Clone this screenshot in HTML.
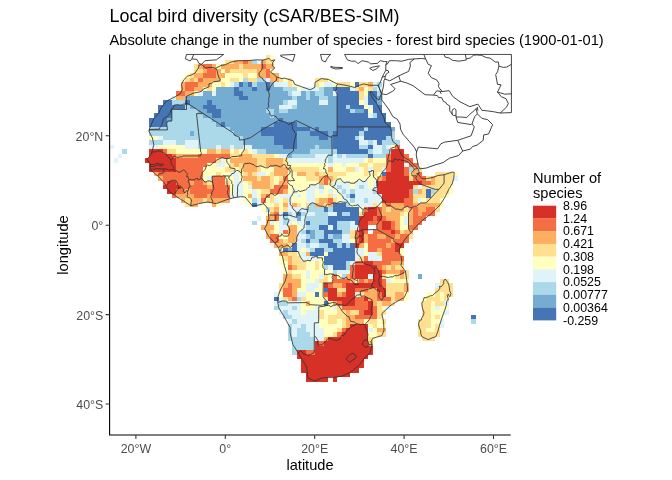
<!DOCTYPE html>
<html><head><meta charset="utf-8"><title>Local bird diversity</title>
<style>
html,body{margin:0;padding:0;background:#fff;}
body{width:672px;height:480px;overflow:hidden;}
svg{display:block}
text{font-family:"Liberation Sans",Arial,sans-serif;fill:#000}
.tk{font-size:12.4px;fill:#4d4d4d}
.lg{font-size:12.4px}
.ax{font-size:14.6px}
.t1{font-size:17.95px}
.t2{font-size:14.68px}
</style></head><body>
<svg width="672" height="480" viewBox="0 0 672 480">
<rect width="672" height="480" fill="#fff"/>
<defs><clipPath id="cp"><rect x="109" y="53.6" width="403.6" height="381.6"/></clipPath></defs>
<g clip-path="url(#cp)" shape-rendering="crispEdges">
<rect x="265.53" y="55.34" width="4.47" height="4.52" fill="#FEE090"/><rect x="270.00" y="55.34" width="4.47" height="4.52" fill="#FFFFBF"/><rect x="225.30" y="59.81" width="8.94" height="4.52" fill="#FEE090"/><rect x="234.24" y="59.81" width="8.94" height="4.52" fill="#FDAE61"/><rect x="243.18" y="59.81" width="4.47" height="4.52" fill="#F46D43"/><rect x="247.65" y="59.81" width="4.47" height="4.52" fill="#FDAE61"/><rect x="252.12" y="59.81" width="4.47" height="4.52" fill="#ABD9E9"/><rect x="256.59" y="59.81" width="4.47" height="4.52" fill="#E0F3F8"/><rect x="261.06" y="59.81" width="4.47" height="4.52" fill="#FDAE61"/><rect x="265.53" y="59.81" width="8.94" height="4.52" fill="#FEE090"/><rect x="194.01" y="64.28" width="4.47" height="4.52" fill="#FEE090"/><rect x="198.48" y="64.28" width="4.47" height="4.52" fill="#FDAE61"/><rect x="202.95" y="64.28" width="8.94" height="4.52" fill="#F46D43"/><rect x="211.89" y="64.28" width="4.47" height="4.52" fill="#FDAE61"/><rect x="216.36" y="64.28" width="4.47" height="4.52" fill="#FFFFBF"/><rect x="220.83" y="64.28" width="17.88" height="4.52" fill="#FDAE61"/><rect x="238.71" y="64.28" width="4.47" height="4.52" fill="#FEE090"/><rect x="243.18" y="64.28" width="17.88" height="4.52" fill="#FDAE61"/><rect x="261.06" y="64.28" width="4.47" height="4.52" fill="#F46D43"/><rect x="265.53" y="64.28" width="8.94" height="4.52" fill="#FDAE61"/><rect x="194.01" y="68.75" width="8.94" height="4.52" fill="#FEE090"/><rect x="202.95" y="68.75" width="4.47" height="4.52" fill="#FDAE61"/><rect x="207.42" y="68.75" width="8.94" height="4.52" fill="#F46D43"/><rect x="216.36" y="68.75" width="4.47" height="4.52" fill="#FDAE61"/><rect x="220.83" y="68.75" width="4.47" height="4.52" fill="#FFFFBF"/><rect x="225.30" y="68.75" width="4.47" height="4.52" fill="#FDAE61"/><rect x="229.77" y="68.75" width="26.82" height="4.52" fill="#FEE090"/><rect x="256.59" y="68.75" width="8.94" height="4.52" fill="#FDAE61"/><rect x="265.53" y="68.75" width="4.47" height="4.52" fill="#F46D43"/><rect x="270.00" y="68.75" width="4.47" height="4.52" fill="#FFFFBF"/><rect x="185.07" y="73.22" width="4.47" height="4.52" fill="#FFFFBF"/><rect x="189.54" y="73.22" width="4.47" height="4.52" fill="#FEE090"/><rect x="194.01" y="73.22" width="8.94" height="4.52" fill="#FDAE61"/><rect x="202.95" y="73.22" width="13.41" height="4.52" fill="#F46D43"/><rect x="216.36" y="73.22" width="8.94" height="4.52" fill="#FDAE61"/><rect x="225.30" y="73.22" width="17.88" height="4.52" fill="#FFFFBF"/><rect x="243.18" y="73.22" width="4.47" height="4.52" fill="#FEE090"/><rect x="247.65" y="73.22" width="8.94" height="4.52" fill="#FFFFBF"/><rect x="256.59" y="73.22" width="8.94" height="4.52" fill="#FDAE61"/><rect x="265.53" y="73.22" width="4.47" height="4.52" fill="#F46D43"/><rect x="270.00" y="73.22" width="8.94" height="4.52" fill="#FDAE61"/><rect x="180.60" y="77.69" width="4.47" height="4.52" fill="#FFFFBF"/><rect x="185.07" y="77.69" width="4.47" height="4.52" fill="#FEE090"/><rect x="189.54" y="77.69" width="4.47" height="4.52" fill="#FDAE61"/><rect x="194.01" y="77.69" width="4.47" height="4.52" fill="#FEE090"/><rect x="198.48" y="77.69" width="4.47" height="4.52" fill="#F46D43"/><rect x="202.95" y="77.69" width="17.88" height="4.52" fill="#FDAE61"/><rect x="220.83" y="77.69" width="8.94" height="4.52" fill="#FFFFBF"/><rect x="229.77" y="77.69" width="8.94" height="4.52" fill="#FEE090"/><rect x="238.71" y="77.69" width="4.47" height="4.52" fill="#FFFFBF"/><rect x="243.18" y="77.69" width="4.47" height="4.52" fill="#ABD9E9"/><rect x="247.65" y="77.69" width="8.94" height="4.52" fill="#FEE090"/><rect x="256.59" y="77.69" width="8.94" height="4.52" fill="#ABD9E9"/><rect x="265.53" y="77.69" width="4.47" height="4.52" fill="#E0F3F8"/><rect x="270.00" y="77.69" width="8.94" height="4.52" fill="#FDAE61"/><rect x="278.94" y="77.69" width="4.47" height="4.52" fill="#FEE090"/><rect x="283.41" y="77.69" width="4.47" height="4.52" fill="#FFFFBF"/><rect x="287.88" y="77.69" width="4.47" height="4.52" fill="#FEE090"/><rect x="314.70" y="77.69" width="13.41" height="4.52" fill="#FEE090"/><rect x="328.11" y="77.69" width="4.47" height="4.52" fill="#FFFFBF"/><rect x="180.60" y="82.16" width="4.47" height="4.52" fill="#FDAE61"/><rect x="185.07" y="82.16" width="13.41" height="4.52" fill="#F46D43"/><rect x="198.48" y="82.16" width="13.41" height="4.52" fill="#FDAE61"/><rect x="211.89" y="82.16" width="8.94" height="4.52" fill="#FFFFBF"/><rect x="220.83" y="82.16" width="4.47" height="4.52" fill="#FEE090"/><rect x="225.30" y="82.16" width="4.47" height="4.52" fill="#FFFFBF"/><rect x="229.77" y="82.16" width="4.47" height="4.52" fill="#E0F3F8"/><rect x="234.24" y="82.16" width="4.47" height="4.52" fill="#ABD9E9"/><rect x="238.71" y="82.16" width="4.47" height="4.52" fill="#4575B4"/><rect x="243.18" y="82.16" width="4.47" height="4.52" fill="#74ADD1"/><rect x="247.65" y="82.16" width="4.47" height="4.52" fill="#4575B4"/><rect x="252.12" y="82.16" width="4.47" height="4.52" fill="#ABD9E9"/><rect x="256.59" y="82.16" width="8.94" height="4.52" fill="#74ADD1"/><rect x="265.53" y="82.16" width="4.47" height="4.52" fill="#4575B4"/><rect x="270.00" y="82.16" width="4.47" height="4.52" fill="#74ADD1"/><rect x="274.47" y="82.16" width="13.41" height="4.52" fill="#E0F3F8"/><rect x="287.88" y="82.16" width="4.47" height="4.52" fill="#FEE090"/><rect x="292.35" y="82.16" width="4.47" height="4.52" fill="#FFFFBF"/><rect x="314.70" y="82.16" width="4.47" height="4.52" fill="#FEE090"/><rect x="319.17" y="82.16" width="4.47" height="4.52" fill="#FFFFBF"/><rect x="323.64" y="82.16" width="8.94" height="4.52" fill="#E0F3F8"/><rect x="332.58" y="82.16" width="4.47" height="4.52" fill="#FFFFBF"/><rect x="337.05" y="82.16" width="13.41" height="4.52" fill="#FEE090"/><rect x="350.46" y="82.16" width="4.47" height="4.52" fill="#FFFFBF"/><rect x="354.93" y="82.16" width="4.47" height="4.52" fill="#4575B4"/><rect x="359.40" y="82.16" width="8.94" height="4.52" fill="#FEE090"/><rect x="368.34" y="82.16" width="4.47" height="4.52" fill="#FDAE61"/><rect x="372.81" y="82.16" width="4.47" height="4.52" fill="#E0F3F8"/><rect x="377.28" y="82.16" width="4.47" height="4.52" fill="#ABD9E9"/><rect x="180.60" y="86.63" width="4.47" height="4.52" fill="#FDAE61"/><rect x="185.07" y="86.63" width="8.94" height="4.52" fill="#F46D43"/><rect x="194.01" y="86.63" width="8.94" height="4.52" fill="#FDAE61"/><rect x="202.95" y="86.63" width="4.47" height="4.52" fill="#FFFFBF"/><rect x="207.42" y="86.63" width="4.47" height="4.52" fill="#FEE090"/><rect x="211.89" y="86.63" width="4.47" height="4.52" fill="#FFFFBF"/><rect x="216.36" y="86.63" width="17.88" height="4.52" fill="#74ADD1"/><rect x="234.24" y="86.63" width="4.47" height="4.52" fill="#4575B4"/><rect x="238.71" y="86.63" width="13.41" height="4.52" fill="#74ADD1"/><rect x="252.12" y="86.63" width="4.47" height="4.52" fill="#4575B4"/><rect x="256.59" y="86.63" width="8.94" height="4.52" fill="#74ADD1"/><rect x="265.53" y="86.63" width="4.47" height="4.52" fill="#4575B4"/><rect x="270.00" y="86.63" width="13.41" height="4.52" fill="#74ADD1"/><rect x="283.41" y="86.63" width="13.41" height="4.52" fill="#ABD9E9"/><rect x="296.82" y="86.63" width="4.47" height="4.52" fill="#FFFFBF"/><rect x="301.29" y="86.63" width="17.88" height="4.52" fill="#E0F3F8"/><rect x="319.17" y="86.63" width="4.47" height="4.52" fill="#ABD9E9"/><rect x="323.64" y="86.63" width="8.94" height="4.52" fill="#74ADD1"/><rect x="332.58" y="86.63" width="17.88" height="4.52" fill="#4575B4"/><rect x="350.46" y="86.63" width="4.47" height="4.52" fill="#E0F3F8"/><rect x="354.93" y="86.63" width="4.47" height="4.52" fill="#FEE090"/><rect x="359.40" y="86.63" width="4.47" height="4.52" fill="#FDAE61"/><rect x="363.87" y="86.63" width="4.47" height="4.52" fill="#FFFFBF"/><rect x="368.34" y="86.63" width="4.47" height="4.52" fill="#FEE090"/><rect x="372.81" y="86.63" width="4.47" height="4.52" fill="#ABD9E9"/><rect x="377.28" y="86.63" width="4.47" height="4.52" fill="#E0F3F8"/><rect x="176.13" y="91.10" width="8.94" height="4.52" fill="#F46D43"/><rect x="185.07" y="91.10" width="8.94" height="4.52" fill="#FDAE61"/><rect x="194.01" y="91.10" width="4.47" height="4.52" fill="#FFFFBF"/><rect x="198.48" y="91.10" width="4.47" height="4.52" fill="#E0F3F8"/><rect x="202.95" y="91.10" width="8.94" height="4.52" fill="#74ADD1"/><rect x="211.89" y="91.10" width="4.47" height="4.52" fill="#E0F3F8"/><rect x="216.36" y="91.10" width="17.88" height="4.52" fill="#74ADD1"/><rect x="234.24" y="91.10" width="8.94" height="4.52" fill="#4575B4"/><rect x="243.18" y="91.10" width="44.70" height="4.52" fill="#74ADD1"/><rect x="287.88" y="91.10" width="4.47" height="4.52" fill="#ABD9E9"/><rect x="292.35" y="91.10" width="8.94" height="4.52" fill="#E0F3F8"/><rect x="301.29" y="91.10" width="4.47" height="4.52" fill="#74ADD1"/><rect x="305.76" y="91.10" width="4.47" height="4.52" fill="#ABD9E9"/><rect x="310.23" y="91.10" width="4.47" height="4.52" fill="#74ADD1"/><rect x="314.70" y="91.10" width="8.94" height="4.52" fill="#ABD9E9"/><rect x="323.64" y="91.10" width="8.94" height="4.52" fill="#74ADD1"/><rect x="332.58" y="91.10" width="4.47" height="4.52" fill="#E0F3F8"/><rect x="337.05" y="91.10" width="22.35" height="4.52" fill="#4575B4"/><rect x="359.40" y="91.10" width="4.47" height="4.52" fill="#FEE090"/><rect x="363.87" y="91.10" width="4.47" height="4.52" fill="#FFFFBF"/><rect x="368.34" y="91.10" width="8.94" height="4.52" fill="#4575B4"/><rect x="377.28" y="91.10" width="4.47" height="4.52" fill="#ABD9E9"/><rect x="171.66" y="95.57" width="4.47" height="4.52" fill="#E0F3F8"/><rect x="176.13" y="95.57" width="8.94" height="4.52" fill="#FDAE61"/><rect x="185.07" y="95.57" width="53.64" height="4.52" fill="#74ADD1"/><rect x="238.71" y="95.57" width="8.94" height="4.52" fill="#4575B4"/><rect x="247.65" y="95.57" width="44.70" height="4.52" fill="#74ADD1"/><rect x="292.35" y="95.57" width="4.47" height="4.52" fill="#ABD9E9"/><rect x="296.82" y="95.57" width="8.94" height="4.52" fill="#74ADD1"/><rect x="305.76" y="95.57" width="4.47" height="4.52" fill="#ABD9E9"/><rect x="310.23" y="95.57" width="8.94" height="4.52" fill="#74ADD1"/><rect x="319.17" y="95.57" width="8.94" height="4.52" fill="#ABD9E9"/><rect x="328.11" y="95.57" width="8.94" height="4.52" fill="#74ADD1"/><rect x="337.05" y="95.57" width="22.35" height="4.52" fill="#4575B4"/><rect x="359.40" y="95.57" width="4.47" height="4.52" fill="#FEE090"/><rect x="363.87" y="95.57" width="4.47" height="4.52" fill="#E0F3F8"/><rect x="368.34" y="95.57" width="8.94" height="4.52" fill="#4575B4"/><rect x="377.28" y="95.57" width="4.47" height="4.52" fill="#74ADD1"/><rect x="162.72" y="100.04" width="8.94" height="4.52" fill="#4575B4"/><rect x="171.66" y="100.04" width="13.41" height="4.52" fill="#ABD9E9"/><rect x="185.07" y="100.04" width="4.47" height="4.52" fill="#4575B4"/><rect x="189.54" y="100.04" width="17.88" height="4.52" fill="#74ADD1"/><rect x="207.42" y="100.04" width="4.47" height="4.52" fill="#4575B4"/><rect x="211.89" y="100.04" width="71.52" height="4.52" fill="#74ADD1"/><rect x="283.41" y="100.04" width="4.47" height="4.52" fill="#ABD9E9"/><rect x="287.88" y="100.04" width="8.94" height="4.52" fill="#E0F3F8"/><rect x="296.82" y="100.04" width="22.35" height="4.52" fill="#74ADD1"/><rect x="319.17" y="100.04" width="8.94" height="4.52" fill="#E0F3F8"/><rect x="328.11" y="100.04" width="8.94" height="4.52" fill="#74ADD1"/><rect x="337.05" y="100.04" width="22.35" height="4.52" fill="#4575B4"/><rect x="359.40" y="100.04" width="4.47" height="4.52" fill="#FFFFBF"/><rect x="363.87" y="100.04" width="4.47" height="4.52" fill="#E0F3F8"/><rect x="368.34" y="100.04" width="8.94" height="4.52" fill="#4575B4"/><rect x="377.28" y="100.04" width="4.47" height="4.52" fill="#74ADD1"/><rect x="158.25" y="104.51" width="26.82" height="4.52" fill="#4575B4"/><rect x="185.07" y="104.51" width="4.47" height="4.52" fill="#ABD9E9"/><rect x="189.54" y="104.51" width="13.41" height="4.52" fill="#74ADD1"/><rect x="202.95" y="104.51" width="13.41" height="4.52" fill="#4575B4"/><rect x="216.36" y="104.51" width="62.58" height="4.52" fill="#74ADD1"/><rect x="278.94" y="104.51" width="13.41" height="4.52" fill="#E0F3F8"/><rect x="292.35" y="104.51" width="4.47" height="4.52" fill="#ABD9E9"/><rect x="296.82" y="104.51" width="40.23" height="4.52" fill="#74ADD1"/><rect x="337.05" y="104.51" width="8.94" height="4.52" fill="#4575B4"/><rect x="345.99" y="104.51" width="4.47" height="4.52" fill="#ABD9E9"/><rect x="350.46" y="104.51" width="13.41" height="4.52" fill="#4575B4"/><rect x="363.87" y="104.51" width="4.47" height="4.52" fill="#FFFFBF"/><rect x="368.34" y="104.51" width="4.47" height="4.52" fill="#E0F3F8"/><rect x="372.81" y="104.51" width="8.94" height="4.52" fill="#4575B4"/><rect x="158.25" y="108.98" width="13.41" height="4.52" fill="#4575B4"/><rect x="171.66" y="108.98" width="26.82" height="4.52" fill="#ABD9E9"/><rect x="198.48" y="108.98" width="8.94" height="4.52" fill="#74ADD1"/><rect x="207.42" y="108.98" width="13.41" height="4.52" fill="#4575B4"/><rect x="220.83" y="108.98" width="44.70" height="4.52" fill="#74ADD1"/><rect x="265.53" y="108.98" width="8.94" height="4.52" fill="#ABD9E9"/><rect x="274.47" y="108.98" width="4.47" height="4.52" fill="#74ADD1"/><rect x="278.94" y="108.98" width="8.94" height="4.52" fill="#ABD9E9"/><rect x="287.88" y="108.98" width="49.17" height="4.52" fill="#74ADD1"/><rect x="337.05" y="108.98" width="13.41" height="4.52" fill="#4575B4"/><rect x="350.46" y="108.98" width="4.47" height="4.52" fill="#ABD9E9"/><rect x="354.93" y="108.98" width="8.94" height="4.52" fill="#74ADD1"/><rect x="363.87" y="108.98" width="4.47" height="4.52" fill="#4575B4"/><rect x="368.34" y="108.98" width="4.47" height="4.52" fill="#FFFFBF"/><rect x="372.81" y="108.98" width="8.94" height="4.52" fill="#4575B4"/><rect x="153.78" y="113.45" width="17.88" height="4.52" fill="#4575B4"/><rect x="171.66" y="113.45" width="31.29" height="4.52" fill="#ABD9E9"/><rect x="202.95" y="113.45" width="8.94" height="4.52" fill="#74ADD1"/><rect x="211.89" y="113.45" width="8.94" height="4.52" fill="#4575B4"/><rect x="220.83" y="113.45" width="49.17" height="4.52" fill="#74ADD1"/><rect x="270.00" y="113.45" width="4.47" height="4.52" fill="#ABD9E9"/><rect x="274.47" y="113.45" width="62.58" height="4.52" fill="#74ADD1"/><rect x="337.05" y="113.45" width="31.29" height="4.52" fill="#4575B4"/><rect x="368.34" y="113.45" width="4.47" height="4.52" fill="#E0F3F8"/><rect x="372.81" y="113.45" width="4.47" height="4.52" fill="#ABD9E9"/><rect x="377.28" y="113.45" width="8.94" height="4.52" fill="#4575B4"/><rect x="149.31" y="117.92" width="17.88" height="4.52" fill="#4575B4"/><rect x="167.19" y="117.92" width="4.47" height="4.52" fill="#74ADD1"/><rect x="171.66" y="117.92" width="40.23" height="4.52" fill="#ABD9E9"/><rect x="211.89" y="117.92" width="67.05" height="4.52" fill="#74ADD1"/><rect x="278.94" y="117.92" width="4.47" height="4.52" fill="#4575B4"/><rect x="283.41" y="117.92" width="53.64" height="4.52" fill="#74ADD1"/><rect x="337.05" y="117.92" width="49.17" height="4.52" fill="#4575B4"/><rect x="149.31" y="122.39" width="17.88" height="4.52" fill="#4575B4"/><rect x="167.19" y="122.39" width="49.17" height="4.52" fill="#ABD9E9"/><rect x="216.36" y="122.39" width="4.47" height="4.52" fill="#74ADD1"/><rect x="220.83" y="122.39" width="4.47" height="4.52" fill="#4575B4"/><rect x="225.30" y="122.39" width="49.17" height="4.52" fill="#74ADD1"/><rect x="274.47" y="122.39" width="22.35" height="4.52" fill="#4575B4"/><rect x="296.82" y="122.39" width="40.23" height="4.52" fill="#74ADD1"/><rect x="337.05" y="122.39" width="53.64" height="4.52" fill="#4575B4"/><rect x="149.31" y="126.86" width="80.46" height="4.52" fill="#ABD9E9"/><rect x="229.77" y="126.86" width="31.29" height="4.52" fill="#74ADD1"/><rect x="261.06" y="126.86" width="49.17" height="4.52" fill="#4575B4"/><rect x="310.23" y="126.86" width="4.47" height="4.52" fill="#74ADD1"/><rect x="314.70" y="126.86" width="4.47" height="4.52" fill="#4575B4"/><rect x="319.17" y="126.86" width="17.88" height="4.52" fill="#74ADD1"/><rect x="337.05" y="126.86" width="26.82" height="4.52" fill="#4575B4"/><rect x="363.87" y="126.86" width="4.47" height="4.52" fill="#ABD9E9"/><rect x="368.34" y="126.86" width="22.35" height="4.52" fill="#4575B4"/><rect x="390.69" y="126.86" width="4.47" height="4.52" fill="#74ADD1"/><rect x="149.31" y="131.33" width="40.23" height="4.52" fill="#ABD9E9"/><rect x="189.54" y="131.33" width="4.47" height="4.52" fill="#74ADD1"/><rect x="194.01" y="131.33" width="40.23" height="4.52" fill="#ABD9E9"/><rect x="234.24" y="131.33" width="26.82" height="4.52" fill="#74ADD1"/><rect x="261.06" y="131.33" width="35.76" height="4.52" fill="#4575B4"/><rect x="296.82" y="131.33" width="13.41" height="4.52" fill="#74ADD1"/><rect x="310.23" y="131.33" width="17.88" height="4.52" fill="#4575B4"/><rect x="328.11" y="131.33" width="4.47" height="4.52" fill="#74ADD1"/><rect x="332.58" y="131.33" width="26.82" height="4.52" fill="#4575B4"/><rect x="359.40" y="131.33" width="4.47" height="4.52" fill="#ABD9E9"/><rect x="363.87" y="131.33" width="26.82" height="4.52" fill="#4575B4"/><rect x="390.69" y="131.33" width="4.47" height="4.52" fill="#ABD9E9"/><rect x="149.31" y="135.80" width="8.94" height="4.52" fill="#FFFFBF"/><rect x="158.25" y="135.80" width="4.47" height="4.52" fill="#E0F3F8"/><rect x="162.72" y="135.80" width="80.46" height="4.52" fill="#ABD9E9"/><rect x="243.18" y="135.80" width="31.29" height="4.52" fill="#74ADD1"/><rect x="274.47" y="135.80" width="22.35" height="4.52" fill="#4575B4"/><rect x="296.82" y="135.80" width="22.35" height="4.52" fill="#74ADD1"/><rect x="319.17" y="135.80" width="8.94" height="4.52" fill="#4575B4"/><rect x="328.11" y="135.80" width="4.47" height="4.52" fill="#74ADD1"/><rect x="332.58" y="135.80" width="22.35" height="4.52" fill="#4575B4"/><rect x="354.93" y="135.80" width="4.47" height="4.52" fill="#ABD9E9"/><rect x="359.40" y="135.80" width="4.47" height="4.52" fill="#E0F3F8"/><rect x="363.87" y="135.80" width="22.35" height="4.52" fill="#4575B4"/><rect x="386.22" y="135.80" width="8.94" height="4.52" fill="#ABD9E9"/><rect x="149.31" y="140.27" width="13.41" height="4.52" fill="#ABD9E9"/><rect x="162.72" y="140.27" width="13.41" height="4.52" fill="#E0F3F8"/><rect x="176.13" y="140.27" width="8.94" height="4.52" fill="#ABD9E9"/><rect x="185.07" y="140.27" width="13.41" height="4.52" fill="#E0F3F8"/><rect x="198.48" y="140.27" width="44.70" height="4.52" fill="#ABD9E9"/><rect x="243.18" y="140.27" width="31.29" height="4.52" fill="#74ADD1"/><rect x="274.47" y="140.27" width="22.35" height="4.52" fill="#4575B4"/><rect x="296.82" y="140.27" width="35.76" height="4.52" fill="#74ADD1"/><rect x="332.58" y="140.27" width="26.82" height="4.52" fill="#4575B4"/><rect x="359.40" y="140.27" width="8.94" height="4.52" fill="#E0F3F8"/><rect x="368.34" y="140.27" width="4.47" height="4.52" fill="#ABD9E9"/><rect x="372.81" y="140.27" width="4.47" height="4.52" fill="#E0F3F8"/><rect x="377.28" y="140.27" width="4.47" height="4.52" fill="#4575B4"/><rect x="381.75" y="140.27" width="17.88" height="4.52" fill="#ABD9E9"/><rect x="109.08" y="144.74" width="4.47" height="4.52" fill="#E0F3F8"/><rect x="149.31" y="144.74" width="8.94" height="4.52" fill="#E0F3F8"/><rect x="158.25" y="144.74" width="26.82" height="4.52" fill="#FFFFBF"/><rect x="185.07" y="144.74" width="13.41" height="4.52" fill="#E0F3F8"/><rect x="198.48" y="144.74" width="17.88" height="4.52" fill="#ABD9E9"/><rect x="216.36" y="144.74" width="4.47" height="4.52" fill="#E0F3F8"/><rect x="220.83" y="144.74" width="8.94" height="4.52" fill="#ABD9E9"/><rect x="229.77" y="144.74" width="4.47" height="4.52" fill="#E0F3F8"/><rect x="234.24" y="144.74" width="8.94" height="4.52" fill="#ABD9E9"/><rect x="243.18" y="144.74" width="8.94" height="4.52" fill="#E0F3F8"/><rect x="252.12" y="144.74" width="31.29" height="4.52" fill="#74ADD1"/><rect x="283.41" y="144.74" width="13.41" height="4.52" fill="#4575B4"/><rect x="296.82" y="144.74" width="17.88" height="4.52" fill="#74ADD1"/><rect x="314.70" y="144.74" width="4.47" height="4.52" fill="#ABD9E9"/><rect x="319.17" y="144.74" width="13.41" height="4.52" fill="#74ADD1"/><rect x="332.58" y="144.74" width="26.82" height="4.52" fill="#4575B4"/><rect x="359.40" y="144.74" width="8.94" height="4.52" fill="#ABD9E9"/><rect x="368.34" y="144.74" width="4.47" height="4.52" fill="#4575B4"/><rect x="372.81" y="144.74" width="8.94" height="4.52" fill="#E0F3F8"/><rect x="381.75" y="144.74" width="4.47" height="4.52" fill="#ABD9E9"/><rect x="386.22" y="144.74" width="4.47" height="4.52" fill="#E0F3F8"/><rect x="390.69" y="144.74" width="4.47" height="4.52" fill="#FFFFBF"/><rect x="395.16" y="144.74" width="4.47" height="4.52" fill="#F46D43"/><rect x="122.49" y="149.21" width="4.47" height="4.52" fill="#ABD9E9"/><rect x="149.31" y="149.21" width="13.41" height="4.52" fill="#D73027"/><rect x="162.72" y="149.21" width="4.47" height="4.52" fill="#F46D43"/><rect x="167.19" y="149.21" width="8.94" height="4.52" fill="#FEE090"/><rect x="176.13" y="149.21" width="31.29" height="4.52" fill="#FFFFBF"/><rect x="207.42" y="149.21" width="8.94" height="4.52" fill="#FDAE61"/><rect x="216.36" y="149.21" width="4.47" height="4.52" fill="#FEE090"/><rect x="220.83" y="149.21" width="8.94" height="4.52" fill="#FDAE61"/><rect x="229.77" y="149.21" width="4.47" height="4.52" fill="#FFFFBF"/><rect x="234.24" y="149.21" width="4.47" height="4.52" fill="#FEE090"/><rect x="238.71" y="149.21" width="4.47" height="4.52" fill="#FFFFBF"/><rect x="243.18" y="149.21" width="4.47" height="4.52" fill="#FEE090"/><rect x="247.65" y="149.21" width="4.47" height="4.52" fill="#FFFFBF"/><rect x="252.12" y="149.21" width="4.47" height="4.52" fill="#E0F3F8"/><rect x="256.59" y="149.21" width="8.94" height="4.52" fill="#ABD9E9"/><rect x="265.53" y="149.21" width="44.70" height="4.52" fill="#74ADD1"/><rect x="310.23" y="149.21" width="26.82" height="4.52" fill="#ABD9E9"/><rect x="337.05" y="149.21" width="31.29" height="4.52" fill="#4575B4"/><rect x="368.34" y="149.21" width="4.47" height="4.52" fill="#ABD9E9"/><rect x="372.81" y="149.21" width="8.94" height="4.52" fill="#E0F3F8"/><rect x="381.75" y="149.21" width="8.94" height="4.52" fill="#ABD9E9"/><rect x="390.69" y="149.21" width="13.41" height="4.52" fill="#D73027"/><rect x="118.02" y="153.68" width="4.47" height="4.52" fill="#E0F3F8"/><rect x="149.31" y="153.68" width="22.35" height="4.52" fill="#D73027"/><rect x="171.66" y="153.68" width="4.47" height="4.52" fill="#F46D43"/><rect x="176.13" y="153.68" width="22.35" height="4.52" fill="#FDAE61"/><rect x="198.48" y="153.68" width="31.29" height="4.52" fill="#F46D43"/><rect x="229.77" y="153.68" width="8.94" height="4.52" fill="#FEE090"/><rect x="238.71" y="153.68" width="13.41" height="4.52" fill="#FDAE61"/><rect x="252.12" y="153.68" width="22.35" height="4.52" fill="#FEE090"/><rect x="274.47" y="153.68" width="4.47" height="4.52" fill="#FFFFBF"/><rect x="278.94" y="153.68" width="8.94" height="4.52" fill="#E0F3F8"/><rect x="287.88" y="153.68" width="4.47" height="4.52" fill="#74ADD1"/><rect x="292.35" y="153.68" width="22.35" height="4.52" fill="#ABD9E9"/><rect x="314.70" y="153.68" width="13.41" height="4.52" fill="#E0F3F8"/><rect x="328.11" y="153.68" width="4.47" height="4.52" fill="#ABD9E9"/><rect x="332.58" y="153.68" width="4.47" height="4.52" fill="#E0F3F8"/><rect x="337.05" y="153.68" width="4.47" height="4.52" fill="#ABD9E9"/><rect x="341.52" y="153.68" width="4.47" height="4.52" fill="#E0F3F8"/><rect x="345.99" y="153.68" width="22.35" height="4.52" fill="#ABD9E9"/><rect x="368.34" y="153.68" width="4.47" height="4.52" fill="#4575B4"/><rect x="372.81" y="153.68" width="13.41" height="4.52" fill="#ABD9E9"/><rect x="386.22" y="153.68" width="4.47" height="4.52" fill="#F46D43"/><rect x="390.69" y="153.68" width="13.41" height="4.52" fill="#D73027"/><rect x="404.10" y="153.68" width="4.47" height="4.52" fill="#F46D43"/><rect x="113.55" y="158.15" width="4.47" height="4.52" fill="#E0F3F8"/><rect x="144.84" y="158.15" width="31.29" height="4.52" fill="#D73027"/><rect x="176.13" y="158.15" width="40.23" height="4.52" fill="#F46D43"/><rect x="216.36" y="158.15" width="4.47" height="4.52" fill="#FEE090"/><rect x="220.83" y="158.15" width="4.47" height="4.52" fill="#E0F3F8"/><rect x="225.30" y="158.15" width="4.47" height="4.52" fill="#FFFFBF"/><rect x="229.77" y="158.15" width="26.82" height="4.52" fill="#FDAE61"/><rect x="256.59" y="158.15" width="8.94" height="4.52" fill="#FEE090"/><rect x="265.53" y="158.15" width="17.88" height="4.52" fill="#FDAE61"/><rect x="283.41" y="158.15" width="4.47" height="4.52" fill="#FEE090"/><rect x="287.88" y="158.15" width="40.23" height="4.52" fill="#E0F3F8"/><rect x="328.11" y="158.15" width="4.47" height="4.52" fill="#ABD9E9"/><rect x="332.58" y="158.15" width="31.29" height="4.52" fill="#E0F3F8"/><rect x="363.87" y="158.15" width="4.47" height="4.52" fill="#FFFFBF"/><rect x="368.34" y="158.15" width="4.47" height="4.52" fill="#FEE090"/><rect x="372.81" y="158.15" width="13.41" height="4.52" fill="#FFFFBF"/><rect x="386.22" y="158.15" width="4.47" height="4.52" fill="#F46D43"/><rect x="390.69" y="158.15" width="13.41" height="4.52" fill="#D73027"/><rect x="404.10" y="158.15" width="8.94" height="4.52" fill="#F46D43"/><rect x="149.31" y="162.62" width="26.82" height="4.52" fill="#D73027"/><rect x="176.13" y="162.62" width="31.29" height="4.52" fill="#F46D43"/><rect x="207.42" y="162.62" width="8.94" height="4.52" fill="#FFFFBF"/><rect x="216.36" y="162.62" width="8.94" height="4.52" fill="#E0F3F8"/><rect x="225.30" y="162.62" width="4.47" height="4.52" fill="#FFFFBF"/><rect x="229.77" y="162.62" width="4.47" height="4.52" fill="#FEE090"/><rect x="234.24" y="162.62" width="4.47" height="4.52" fill="#FDAE61"/><rect x="238.71" y="162.62" width="4.47" height="4.52" fill="#FEE090"/><rect x="243.18" y="162.62" width="13.41" height="4.52" fill="#FDAE61"/><rect x="256.59" y="162.62" width="8.94" height="4.52" fill="#FEE090"/><rect x="265.53" y="162.62" width="17.88" height="4.52" fill="#FDAE61"/><rect x="283.41" y="162.62" width="4.47" height="4.52" fill="#FEE090"/><rect x="287.88" y="162.62" width="40.23" height="4.52" fill="#FFFFBF"/><rect x="328.11" y="162.62" width="4.47" height="4.52" fill="#E0F3F8"/><rect x="332.58" y="162.62" width="8.94" height="4.52" fill="#FFFFBF"/><rect x="341.52" y="162.62" width="4.47" height="4.52" fill="#E0F3F8"/><rect x="345.99" y="162.62" width="13.41" height="4.52" fill="#FFFFBF"/><rect x="359.40" y="162.62" width="8.94" height="4.52" fill="#FEE090"/><rect x="368.34" y="162.62" width="4.47" height="4.52" fill="#FFFFBF"/><rect x="372.81" y="162.62" width="13.41" height="4.52" fill="#FEE090"/><rect x="386.22" y="162.62" width="4.47" height="4.52" fill="#F46D43"/><rect x="390.69" y="162.62" width="13.41" height="4.52" fill="#D73027"/><rect x="404.10" y="162.62" width="4.47" height="4.52" fill="#E0F3F8"/><rect x="408.57" y="162.62" width="8.94" height="4.52" fill="#F46D43"/><rect x="149.31" y="167.09" width="26.82" height="4.52" fill="#D73027"/><rect x="176.13" y="167.09" width="26.82" height="4.52" fill="#F46D43"/><rect x="202.95" y="167.09" width="22.35" height="4.52" fill="#FFFFBF"/><rect x="225.30" y="167.09" width="8.94" height="4.52" fill="#FEE090"/><rect x="234.24" y="167.09" width="4.47" height="4.52" fill="#FFFFBF"/><rect x="238.71" y="167.09" width="4.47" height="4.52" fill="#FEE090"/><rect x="243.18" y="167.09" width="13.41" height="4.52" fill="#FDAE61"/><rect x="256.59" y="167.09" width="4.47" height="4.52" fill="#FEE090"/><rect x="261.06" y="167.09" width="13.41" height="4.52" fill="#FFFFBF"/><rect x="274.47" y="167.09" width="13.41" height="4.52" fill="#FDAE61"/><rect x="287.88" y="167.09" width="31.29" height="4.52" fill="#FEE090"/><rect x="319.17" y="167.09" width="8.94" height="4.52" fill="#FFFFBF"/><rect x="328.11" y="167.09" width="4.47" height="4.52" fill="#FDAE61"/><rect x="332.58" y="167.09" width="13.41" height="4.52" fill="#FFFFBF"/><rect x="345.99" y="167.09" width="8.94" height="4.52" fill="#FEE090"/><rect x="354.93" y="167.09" width="4.47" height="4.52" fill="#E0F3F8"/><rect x="359.40" y="167.09" width="4.47" height="4.52" fill="#FFFFBF"/><rect x="363.87" y="167.09" width="4.47" height="4.52" fill="#FEE090"/><rect x="368.34" y="167.09" width="4.47" height="4.52" fill="#E0F3F8"/><rect x="372.81" y="167.09" width="8.94" height="4.52" fill="#FEE090"/><rect x="381.75" y="167.09" width="4.47" height="4.52" fill="#E0F3F8"/><rect x="386.22" y="167.09" width="4.47" height="4.52" fill="#F46D43"/><rect x="390.69" y="167.09" width="13.41" height="4.52" fill="#D73027"/><rect x="404.10" y="167.09" width="4.47" height="4.52" fill="#F46D43"/><rect x="408.57" y="167.09" width="4.47" height="4.52" fill="#ABD9E9"/><rect x="413.04" y="167.09" width="4.47" height="4.52" fill="#FDAE61"/><rect x="417.51" y="167.09" width="4.47" height="4.52" fill="#FEE090"/><rect x="153.78" y="171.56" width="4.47" height="4.52" fill="#FDAE61"/><rect x="158.25" y="171.56" width="44.70" height="4.52" fill="#F46D43"/><rect x="202.95" y="171.56" width="13.41" height="4.52" fill="#FFFFBF"/><rect x="216.36" y="171.56" width="4.47" height="4.52" fill="#FEE090"/><rect x="220.83" y="171.56" width="8.94" height="4.52" fill="#FFFFBF"/><rect x="229.77" y="171.56" width="8.94" height="4.52" fill="#E0F3F8"/><rect x="238.71" y="171.56" width="4.47" height="4.52" fill="#FFFFBF"/><rect x="243.18" y="171.56" width="4.47" height="4.52" fill="#FEE090"/><rect x="247.65" y="171.56" width="4.47" height="4.52" fill="#FDAE61"/><rect x="252.12" y="171.56" width="4.47" height="4.52" fill="#FEE090"/><rect x="256.59" y="171.56" width="8.94" height="4.52" fill="#E0F3F8"/><rect x="265.53" y="171.56" width="4.47" height="4.52" fill="#FFFFBF"/><rect x="270.00" y="171.56" width="4.47" height="4.52" fill="#FEE090"/><rect x="274.47" y="171.56" width="13.41" height="4.52" fill="#FDAE61"/><rect x="287.88" y="171.56" width="8.94" height="4.52" fill="#FFFFBF"/><rect x="296.82" y="171.56" width="8.94" height="4.52" fill="#FDAE61"/><rect x="305.76" y="171.56" width="8.94" height="4.52" fill="#FEE090"/><rect x="314.70" y="171.56" width="4.47" height="4.52" fill="#FDAE61"/><rect x="319.17" y="171.56" width="26.82" height="4.52" fill="#FEE090"/><rect x="345.99" y="171.56" width="17.88" height="4.52" fill="#FFFFBF"/><rect x="363.87" y="171.56" width="4.47" height="4.52" fill="#FEE090"/><rect x="368.34" y="171.56" width="4.47" height="4.52" fill="#FFFFBF"/><rect x="372.81" y="171.56" width="4.47" height="4.52" fill="#FEE090"/><rect x="377.28" y="171.56" width="4.47" height="4.52" fill="#FFFFBF"/><rect x="381.75" y="171.56" width="4.47" height="4.52" fill="#4575B4"/><rect x="386.22" y="171.56" width="17.88" height="4.52" fill="#D73027"/><rect x="404.10" y="171.56" width="4.47" height="4.52" fill="#F46D43"/><rect x="408.57" y="171.56" width="4.47" height="4.52" fill="#FEE090"/><rect x="413.04" y="171.56" width="4.47" height="4.52" fill="#FDAE61"/><rect x="417.51" y="171.56" width="4.47" height="4.52" fill="#F46D43"/><rect x="435.39" y="171.56" width="17.88" height="4.52" fill="#FEE090"/><rect x="453.27" y="171.56" width="4.47" height="4.52" fill="#FFFFBF"/><rect x="158.25" y="176.03" width="4.47" height="4.52" fill="#FDAE61"/><rect x="162.72" y="176.03" width="40.23" height="4.52" fill="#F46D43"/><rect x="202.95" y="176.03" width="4.47" height="4.52" fill="#FFFFBF"/><rect x="207.42" y="176.03" width="4.47" height="4.52" fill="#E0F3F8"/><rect x="211.89" y="176.03" width="13.41" height="4.52" fill="#F46D43"/><rect x="225.30" y="176.03" width="8.94" height="4.52" fill="#FFFFBF"/><rect x="234.24" y="176.03" width="4.47" height="4.52" fill="#E0F3F8"/><rect x="238.71" y="176.03" width="4.47" height="4.52" fill="#FFFFBF"/><rect x="243.18" y="176.03" width="13.41" height="4.52" fill="#FDAE61"/><rect x="256.59" y="176.03" width="4.47" height="4.52" fill="#FEE090"/><rect x="261.06" y="176.03" width="8.94" height="4.52" fill="#FDAE61"/><rect x="270.00" y="176.03" width="4.47" height="4.52" fill="#FEE090"/><rect x="274.47" y="176.03" width="4.47" height="4.52" fill="#FFFFBF"/><rect x="278.94" y="176.03" width="4.47" height="4.52" fill="#FEE090"/><rect x="283.41" y="176.03" width="4.47" height="4.52" fill="#F46D43"/><rect x="287.88" y="176.03" width="17.88" height="4.52" fill="#FFFFBF"/><rect x="305.76" y="176.03" width="13.41" height="4.52" fill="#FEE090"/><rect x="319.17" y="176.03" width="4.47" height="4.52" fill="#FDAE61"/><rect x="323.64" y="176.03" width="4.47" height="4.52" fill="#F46D43"/><rect x="328.11" y="176.03" width="4.47" height="4.52" fill="#FDAE61"/><rect x="332.58" y="176.03" width="4.47" height="4.52" fill="#FEE090"/><rect x="337.05" y="176.03" width="40.23" height="4.52" fill="#FFFFBF"/><rect x="377.28" y="176.03" width="4.47" height="4.52" fill="#FDAE61"/><rect x="381.75" y="176.03" width="4.47" height="4.52" fill="#F46D43"/><rect x="386.22" y="176.03" width="22.35" height="4.52" fill="#D73027"/><rect x="408.57" y="176.03" width="4.47" height="4.52" fill="#FEE090"/><rect x="413.04" y="176.03" width="13.41" height="4.52" fill="#F46D43"/><rect x="426.45" y="176.03" width="4.47" height="4.52" fill="#FEE090"/><rect x="430.92" y="176.03" width="4.47" height="4.52" fill="#FDAE61"/><rect x="435.39" y="176.03" width="17.88" height="4.52" fill="#FEE090"/><rect x="453.27" y="176.03" width="4.47" height="4.52" fill="#E0F3F8"/><rect x="162.72" y="180.50" width="4.47" height="4.52" fill="#F46D43"/><rect x="167.19" y="180.50" width="8.94" height="4.52" fill="#D73027"/><rect x="176.13" y="180.50" width="13.41" height="4.52" fill="#F46D43"/><rect x="189.54" y="180.50" width="4.47" height="4.52" fill="#FDAE61"/><rect x="194.01" y="180.50" width="8.94" height="4.52" fill="#F46D43"/><rect x="202.95" y="180.50" width="4.47" height="4.52" fill="#FDAE61"/><rect x="207.42" y="180.50" width="4.47" height="4.52" fill="#FEE090"/><rect x="211.89" y="180.50" width="13.41" height="4.52" fill="#F46D43"/><rect x="225.30" y="180.50" width="4.47" height="4.52" fill="#FEE090"/><rect x="229.77" y="180.50" width="4.47" height="4.52" fill="#FFFFBF"/><rect x="234.24" y="180.50" width="8.94" height="4.52" fill="#E0F3F8"/><rect x="243.18" y="180.50" width="4.47" height="4.52" fill="#FFFFBF"/><rect x="247.65" y="180.50" width="4.47" height="4.52" fill="#FEE090"/><rect x="252.12" y="180.50" width="17.88" height="4.52" fill="#FDAE61"/><rect x="270.00" y="180.50" width="4.47" height="4.52" fill="#FEE090"/><rect x="274.47" y="180.50" width="4.47" height="4.52" fill="#FFFFBF"/><rect x="278.94" y="180.50" width="8.94" height="4.52" fill="#FDAE61"/><rect x="287.88" y="180.50" width="31.29" height="4.52" fill="#FFFFBF"/><rect x="319.17" y="180.50" width="4.47" height="4.52" fill="#FDAE61"/><rect x="323.64" y="180.50" width="4.47" height="4.52" fill="#F46D43"/><rect x="328.11" y="180.50" width="4.47" height="4.52" fill="#FEE090"/><rect x="332.58" y="180.50" width="17.88" height="4.52" fill="#E0F3F8"/><rect x="350.46" y="180.50" width="4.47" height="4.52" fill="#FFFFBF"/><rect x="354.93" y="180.50" width="13.41" height="4.52" fill="#E0F3F8"/><rect x="368.34" y="180.50" width="4.47" height="4.52" fill="#FFFFBF"/><rect x="372.81" y="180.50" width="4.47" height="4.52" fill="#E0F3F8"/><rect x="377.28" y="180.50" width="44.70" height="4.52" fill="#D73027"/><rect x="421.98" y="180.50" width="8.94" height="4.52" fill="#F46D43"/><rect x="430.92" y="180.50" width="4.47" height="4.52" fill="#FDAE61"/><rect x="435.39" y="180.50" width="17.88" height="4.52" fill="#FEE090"/><rect x="162.72" y="184.97" width="17.88" height="4.52" fill="#D73027"/><rect x="180.60" y="184.97" width="26.82" height="4.52" fill="#F46D43"/><rect x="207.42" y="184.97" width="4.47" height="4.52" fill="#FDAE61"/><rect x="211.89" y="184.97" width="17.88" height="4.52" fill="#F46D43"/><rect x="229.77" y="184.97" width="4.47" height="4.52" fill="#FFFFBF"/><rect x="234.24" y="184.97" width="8.94" height="4.52" fill="#E0F3F8"/><rect x="243.18" y="184.97" width="4.47" height="4.52" fill="#FFFFBF"/><rect x="247.65" y="184.97" width="4.47" height="4.52" fill="#E0F3F8"/><rect x="252.12" y="184.97" width="17.88" height="4.52" fill="#FDAE61"/><rect x="270.00" y="184.97" width="4.47" height="4.52" fill="#FEE090"/><rect x="274.47" y="184.97" width="13.41" height="4.52" fill="#F46D43"/><rect x="287.88" y="184.97" width="22.35" height="4.52" fill="#FFFFBF"/><rect x="310.23" y="184.97" width="8.94" height="4.52" fill="#E0F3F8"/><rect x="319.17" y="184.97" width="4.47" height="4.52" fill="#ABD9E9"/><rect x="323.64" y="184.97" width="8.94" height="4.52" fill="#FFFFBF"/><rect x="332.58" y="184.97" width="4.47" height="4.52" fill="#E0F3F8"/><rect x="337.05" y="184.97" width="4.47" height="4.52" fill="#ABD9E9"/><rect x="341.52" y="184.97" width="8.94" height="4.52" fill="#E0F3F8"/><rect x="350.46" y="184.97" width="4.47" height="4.52" fill="#FFFFBF"/><rect x="354.93" y="184.97" width="4.47" height="4.52" fill="#E0F3F8"/><rect x="359.40" y="184.97" width="4.47" height="4.52" fill="#ABD9E9"/><rect x="363.87" y="184.97" width="4.47" height="4.52" fill="#E0F3F8"/><rect x="368.34" y="184.97" width="4.47" height="4.52" fill="#FFFFBF"/><rect x="372.81" y="184.97" width="4.47" height="4.52" fill="#E0F3F8"/><rect x="377.28" y="184.97" width="35.76" height="4.52" fill="#D73027"/><rect x="413.04" y="184.97" width="4.47" height="4.52" fill="#FEE090"/><rect x="417.51" y="184.97" width="4.47" height="4.52" fill="#E0F3F8"/><rect x="421.98" y="184.97" width="26.82" height="4.52" fill="#FEE090"/><rect x="448.80" y="184.97" width="4.47" height="4.52" fill="#FFFFBF"/><rect x="167.19" y="189.44" width="8.94" height="4.52" fill="#D73027"/><rect x="176.13" y="189.44" width="8.94" height="4.52" fill="#F46D43"/><rect x="185.07" y="189.44" width="4.47" height="4.52" fill="#FDAE61"/><rect x="189.54" y="189.44" width="40.23" height="4.52" fill="#F46D43"/><rect x="229.77" y="189.44" width="4.47" height="4.52" fill="#FFFFBF"/><rect x="234.24" y="189.44" width="8.94" height="4.52" fill="#E0F3F8"/><rect x="243.18" y="189.44" width="8.94" height="4.52" fill="#FFFFBF"/><rect x="252.12" y="189.44" width="4.47" height="4.52" fill="#E0F3F8"/><rect x="256.59" y="189.44" width="4.47" height="4.52" fill="#FFFFBF"/><rect x="261.06" y="189.44" width="8.94" height="4.52" fill="#FEE090"/><rect x="270.00" y="189.44" width="13.41" height="4.52" fill="#F46D43"/><rect x="283.41" y="189.44" width="4.47" height="4.52" fill="#FDAE61"/><rect x="287.88" y="189.44" width="4.47" height="4.52" fill="#FFFFBF"/><rect x="292.35" y="189.44" width="4.47" height="4.52" fill="#E0F3F8"/><rect x="296.82" y="189.44" width="8.94" height="4.52" fill="#FFFFBF"/><rect x="305.76" y="189.44" width="8.94" height="4.52" fill="#E0F3F8"/><rect x="314.70" y="189.44" width="4.47" height="4.52" fill="#FFFFBF"/><rect x="319.17" y="189.44" width="4.47" height="4.52" fill="#E0F3F8"/><rect x="323.64" y="189.44" width="4.47" height="4.52" fill="#FFFFBF"/><rect x="328.11" y="189.44" width="4.47" height="4.52" fill="#E0F3F8"/><rect x="332.58" y="189.44" width="4.47" height="4.52" fill="#FFFFBF"/><rect x="337.05" y="189.44" width="4.47" height="4.52" fill="#E0F3F8"/><rect x="341.52" y="189.44" width="4.47" height="4.52" fill="#ABD9E9"/><rect x="345.99" y="189.44" width="4.47" height="4.52" fill="#E0F3F8"/><rect x="350.46" y="189.44" width="4.47" height="4.52" fill="#ABD9E9"/><rect x="354.93" y="189.44" width="17.88" height="4.52" fill="#E0F3F8"/><rect x="372.81" y="189.44" width="4.47" height="4.52" fill="#ABD9E9"/><rect x="377.28" y="189.44" width="31.29" height="4.52" fill="#D73027"/><rect x="408.57" y="189.44" width="4.47" height="4.52" fill="#F46D43"/><rect x="413.04" y="189.44" width="4.47" height="4.52" fill="#ABD9E9"/><rect x="417.51" y="189.44" width="4.47" height="4.52" fill="#FDAE61"/><rect x="421.98" y="189.44" width="4.47" height="4.52" fill="#FEE090"/><rect x="426.45" y="189.44" width="4.47" height="4.52" fill="#4575B4"/><rect x="430.92" y="189.44" width="4.47" height="4.52" fill="#ABD9E9"/><rect x="435.39" y="189.44" width="13.41" height="4.52" fill="#FEE090"/><rect x="448.80" y="189.44" width="4.47" height="4.52" fill="#FFFFBF"/><rect x="171.66" y="193.91" width="4.47" height="4.52" fill="#F46D43"/><rect x="176.13" y="193.91" width="17.88" height="4.52" fill="#FDAE61"/><rect x="194.01" y="193.91" width="13.41" height="4.52" fill="#F46D43"/><rect x="207.42" y="193.91" width="4.47" height="4.52" fill="#FDAE61"/><rect x="211.89" y="193.91" width="17.88" height="4.52" fill="#F46D43"/><rect x="229.77" y="193.91" width="13.41" height="4.52" fill="#E0F3F8"/><rect x="243.18" y="193.91" width="4.47" height="4.52" fill="#FFFFBF"/><rect x="247.65" y="193.91" width="4.47" height="4.52" fill="#FDAE61"/><rect x="252.12" y="193.91" width="4.47" height="4.52" fill="#E0F3F8"/><rect x="256.59" y="193.91" width="4.47" height="4.52" fill="#FFFFBF"/><rect x="261.06" y="193.91" width="4.47" height="4.52" fill="#FDAE61"/><rect x="265.53" y="193.91" width="4.47" height="4.52" fill="#F46D43"/><rect x="270.00" y="193.91" width="4.47" height="4.52" fill="#FEE090"/><rect x="274.47" y="193.91" width="4.47" height="4.52" fill="#FFFFBF"/><rect x="278.94" y="193.91" width="13.41" height="4.52" fill="#E0F3F8"/><rect x="292.35" y="193.91" width="4.47" height="4.52" fill="#FFFFBF"/><rect x="296.82" y="193.91" width="4.47" height="4.52" fill="#E0F3F8"/><rect x="301.29" y="193.91" width="4.47" height="4.52" fill="#FFFFBF"/><rect x="305.76" y="193.91" width="8.94" height="4.52" fill="#E0F3F8"/><rect x="314.70" y="193.91" width="13.41" height="4.52" fill="#FFFFBF"/><rect x="328.11" y="193.91" width="4.47" height="4.52" fill="#FEE090"/><rect x="332.58" y="193.91" width="4.47" height="4.52" fill="#E0F3F8"/><rect x="337.05" y="193.91" width="4.47" height="4.52" fill="#FFFFBF"/><rect x="341.52" y="193.91" width="4.47" height="4.52" fill="#E0F3F8"/><rect x="345.99" y="193.91" width="4.47" height="4.52" fill="#ABD9E9"/><rect x="350.46" y="193.91" width="4.47" height="4.52" fill="#4575B4"/><rect x="354.93" y="193.91" width="26.82" height="4.52" fill="#E0F3F8"/><rect x="381.75" y="193.91" width="26.82" height="4.52" fill="#D73027"/><rect x="408.57" y="193.91" width="4.47" height="4.52" fill="#F46D43"/><rect x="413.04" y="193.91" width="13.41" height="4.52" fill="#FEE090"/><rect x="426.45" y="193.91" width="4.47" height="4.52" fill="#4575B4"/><rect x="430.92" y="193.91" width="13.41" height="4.52" fill="#FEE090"/><rect x="444.33" y="193.91" width="4.47" height="4.52" fill="#FFFFBF"/><rect x="180.60" y="198.38" width="4.47" height="4.52" fill="#FDAE61"/><rect x="185.07" y="198.38" width="4.47" height="4.52" fill="#FEE090"/><rect x="189.54" y="198.38" width="13.41" height="4.52" fill="#FDAE61"/><rect x="202.95" y="198.38" width="4.47" height="4.52" fill="#FEE090"/><rect x="207.42" y="198.38" width="22.35" height="4.52" fill="#FDAE61"/><rect x="243.18" y="198.38" width="8.94" height="4.52" fill="#FFFFBF"/><rect x="252.12" y="198.38" width="4.47" height="4.52" fill="#ABD9E9"/><rect x="256.59" y="198.38" width="4.47" height="4.52" fill="#E0F3F8"/><rect x="261.06" y="198.38" width="4.47" height="4.52" fill="#F46D43"/><rect x="265.53" y="198.38" width="4.47" height="4.52" fill="#FFFFBF"/><rect x="270.00" y="198.38" width="4.47" height="4.52" fill="#FEE090"/><rect x="274.47" y="198.38" width="4.47" height="4.52" fill="#E0F3F8"/><rect x="278.94" y="198.38" width="4.47" height="4.52" fill="#FFFFBF"/><rect x="283.41" y="198.38" width="4.47" height="4.52" fill="#FEE090"/><rect x="287.88" y="198.38" width="4.47" height="4.52" fill="#E0F3F8"/><rect x="292.35" y="198.38" width="13.41" height="4.52" fill="#FFFFBF"/><rect x="305.76" y="198.38" width="8.94" height="4.52" fill="#E0F3F8"/><rect x="314.70" y="198.38" width="4.47" height="4.52" fill="#FEE090"/><rect x="319.17" y="198.38" width="8.94" height="4.52" fill="#FDAE61"/><rect x="328.11" y="198.38" width="4.47" height="4.52" fill="#F46D43"/><rect x="332.58" y="198.38" width="4.47" height="4.52" fill="#FEE090"/><rect x="337.05" y="198.38" width="4.47" height="4.52" fill="#FFFFBF"/><rect x="341.52" y="198.38" width="8.94" height="4.52" fill="#E0F3F8"/><rect x="350.46" y="198.38" width="4.47" height="4.52" fill="#ABD9E9"/><rect x="354.93" y="198.38" width="8.94" height="4.52" fill="#E0F3F8"/><rect x="363.87" y="198.38" width="4.47" height="4.52" fill="#ABD9E9"/><rect x="368.34" y="198.38" width="13.41" height="4.52" fill="#E0F3F8"/><rect x="381.75" y="198.38" width="22.35" height="4.52" fill="#D73027"/><rect x="404.10" y="198.38" width="8.94" height="4.52" fill="#F46D43"/><rect x="413.04" y="198.38" width="4.47" height="4.52" fill="#FEE090"/><rect x="417.51" y="198.38" width="4.47" height="4.52" fill="#E0F3F8"/><rect x="421.98" y="198.38" width="4.47" height="4.52" fill="#FFFFBF"/><rect x="426.45" y="198.38" width="13.41" height="4.52" fill="#FEE090"/><rect x="439.86" y="198.38" width="4.47" height="4.52" fill="#FFFFBF"/><rect x="185.07" y="202.85" width="4.47" height="4.52" fill="#FEE090"/><rect x="189.54" y="202.85" width="8.94" height="4.52" fill="#FDAE61"/><rect x="211.89" y="202.85" width="4.47" height="4.52" fill="#FDAE61"/><rect x="216.36" y="202.85" width="4.47" height="4.52" fill="#FFFFBF"/><rect x="247.65" y="202.85" width="4.47" height="4.52" fill="#FFFFBF"/><rect x="252.12" y="202.85" width="4.47" height="4.52" fill="#4575B4"/><rect x="256.59" y="202.85" width="4.47" height="4.52" fill="#E0F3F8"/><rect x="261.06" y="202.85" width="13.41" height="4.52" fill="#FFFFBF"/><rect x="274.47" y="202.85" width="4.47" height="4.52" fill="#FEE090"/><rect x="278.94" y="202.85" width="4.47" height="4.52" fill="#FFFFBF"/><rect x="283.41" y="202.85" width="4.47" height="4.52" fill="#FDAE61"/><rect x="287.88" y="202.85" width="4.47" height="4.52" fill="#E0F3F8"/><rect x="292.35" y="202.85" width="4.47" height="4.52" fill="#FDAE61"/><rect x="296.82" y="202.85" width="4.47" height="4.52" fill="#FEE090"/><rect x="301.29" y="202.85" width="4.47" height="4.52" fill="#FFFFBF"/><rect x="305.76" y="202.85" width="4.47" height="4.52" fill="#FEE090"/><rect x="310.23" y="202.85" width="4.47" height="4.52" fill="#ABD9E9"/><rect x="314.70" y="202.85" width="8.94" height="4.52" fill="#FDAE61"/><rect x="323.64" y="202.85" width="4.47" height="4.52" fill="#FEE090"/><rect x="328.11" y="202.85" width="4.47" height="4.52" fill="#FDAE61"/><rect x="332.58" y="202.85" width="13.41" height="4.52" fill="#4575B4"/><rect x="345.99" y="202.85" width="4.47" height="4.52" fill="#ABD9E9"/><rect x="350.46" y="202.85" width="4.47" height="4.52" fill="#FFFFBF"/><rect x="354.93" y="202.85" width="17.88" height="4.52" fill="#E0F3F8"/><rect x="372.81" y="202.85" width="4.47" height="4.52" fill="#FEE090"/><rect x="377.28" y="202.85" width="4.47" height="4.52" fill="#FFFFBF"/><rect x="381.75" y="202.85" width="4.47" height="4.52" fill="#FDAE61"/><rect x="386.22" y="202.85" width="4.47" height="4.52" fill="#F46D43"/><rect x="390.69" y="202.85" width="13.41" height="4.52" fill="#FDAE61"/><rect x="404.10" y="202.85" width="8.94" height="4.52" fill="#F46D43"/><rect x="413.04" y="202.85" width="26.82" height="4.52" fill="#FDAE61"/><rect x="439.86" y="202.85" width="4.47" height="4.52" fill="#FFFFBF"/><rect x="261.06" y="207.32" width="4.47" height="4.52" fill="#FFFFBF"/><rect x="265.53" y="207.32" width="4.47" height="4.52" fill="#ABD9E9"/><rect x="270.00" y="207.32" width="4.47" height="4.52" fill="#FEE090"/><rect x="274.47" y="207.32" width="4.47" height="4.52" fill="#FDAE61"/><rect x="278.94" y="207.32" width="4.47" height="4.52" fill="#FFFFBF"/><rect x="283.41" y="207.32" width="4.47" height="4.52" fill="#FEE090"/><rect x="287.88" y="207.32" width="17.88" height="4.52" fill="#E0F3F8"/><rect x="305.76" y="207.32" width="17.88" height="4.52" fill="#ABD9E9"/><rect x="323.64" y="207.32" width="4.47" height="4.52" fill="#4575B4"/><rect x="328.11" y="207.32" width="4.47" height="4.52" fill="#ABD9E9"/><rect x="332.58" y="207.32" width="26.82" height="4.52" fill="#4575B4"/><rect x="359.40" y="207.32" width="4.47" height="4.52" fill="#FFFFBF"/><rect x="363.87" y="207.32" width="4.47" height="4.52" fill="#F46D43"/><rect x="368.34" y="207.32" width="8.94" height="4.52" fill="#D73027"/><rect x="377.28" y="207.32" width="4.47" height="4.52" fill="#F46D43"/><rect x="381.75" y="207.32" width="4.47" height="4.52" fill="#FDAE61"/><rect x="386.22" y="207.32" width="4.47" height="4.52" fill="#FEE090"/><rect x="390.69" y="207.32" width="13.41" height="4.52" fill="#FDAE61"/><rect x="404.10" y="207.32" width="4.47" height="4.52" fill="#FEE090"/><rect x="408.57" y="207.32" width="4.47" height="4.52" fill="#FDAE61"/><rect x="413.04" y="207.32" width="4.47" height="4.52" fill="#F46D43"/><rect x="417.51" y="207.32" width="8.94" height="4.52" fill="#FDAE61"/><rect x="426.45" y="207.32" width="8.94" height="4.52" fill="#F46D43"/><rect x="435.39" y="207.32" width="4.47" height="4.52" fill="#FEE090"/><rect x="265.53" y="211.79" width="4.47" height="4.52" fill="#FFFFBF"/><rect x="270.00" y="211.79" width="4.47" height="4.52" fill="#FDAE61"/><rect x="274.47" y="211.79" width="4.47" height="4.52" fill="#F46D43"/><rect x="278.94" y="211.79" width="4.47" height="4.52" fill="#E0F3F8"/><rect x="283.41" y="211.79" width="4.47" height="4.52" fill="#4575B4"/><rect x="287.88" y="211.79" width="4.47" height="4.52" fill="#ABD9E9"/><rect x="292.35" y="211.79" width="4.47" height="4.52" fill="#E0F3F8"/><rect x="296.82" y="211.79" width="4.47" height="4.52" fill="#4575B4"/><rect x="301.29" y="211.79" width="4.47" height="4.52" fill="#ABD9E9"/><rect x="305.76" y="211.79" width="8.94" height="4.52" fill="#E0F3F8"/><rect x="314.70" y="211.79" width="13.41" height="4.52" fill="#ABD9E9"/><rect x="328.11" y="211.79" width="8.94" height="4.52" fill="#E0F3F8"/><rect x="337.05" y="211.79" width="4.47" height="4.52" fill="#4575B4"/><rect x="341.52" y="211.79" width="8.94" height="4.52" fill="#ABD9E9"/><rect x="350.46" y="211.79" width="8.94" height="4.52" fill="#4575B4"/><rect x="359.40" y="211.79" width="4.47" height="4.52" fill="#FEE090"/><rect x="363.87" y="211.79" width="13.41" height="4.52" fill="#D73027"/><rect x="377.28" y="211.79" width="4.47" height="4.52" fill="#F46D43"/><rect x="381.75" y="211.79" width="17.88" height="4.52" fill="#FDAE61"/><rect x="399.63" y="211.79" width="4.47" height="4.52" fill="#FEE090"/><rect x="404.10" y="211.79" width="4.47" height="4.52" fill="#FFFFBF"/><rect x="408.57" y="211.79" width="4.47" height="4.52" fill="#FDAE61"/><rect x="413.04" y="211.79" width="4.47" height="4.52" fill="#F46D43"/><rect x="417.51" y="211.79" width="4.47" height="4.52" fill="#FDAE61"/><rect x="421.98" y="211.79" width="13.41" height="4.52" fill="#F46D43"/><rect x="256.59" y="216.26" width="4.47" height="4.52" fill="#E0F3F8"/><rect x="265.53" y="216.26" width="8.94" height="4.52" fill="#FDAE61"/><rect x="274.47" y="216.26" width="4.47" height="4.52" fill="#F46D43"/><rect x="278.94" y="216.26" width="4.47" height="4.52" fill="#E0F3F8"/><rect x="283.41" y="216.26" width="4.47" height="4.52" fill="#ABD9E9"/><rect x="287.88" y="216.26" width="8.94" height="4.52" fill="#E0F3F8"/><rect x="296.82" y="216.26" width="4.47" height="4.52" fill="#74ADD1"/><rect x="301.29" y="216.26" width="4.47" height="4.52" fill="#E0F3F8"/><rect x="305.76" y="216.26" width="22.35" height="4.52" fill="#ABD9E9"/><rect x="328.11" y="216.26" width="31.29" height="4.52" fill="#4575B4"/><rect x="359.40" y="216.26" width="13.41" height="4.52" fill="#D73027"/><rect x="372.81" y="216.26" width="4.47" height="4.52" fill="#F46D43"/><rect x="377.28" y="216.26" width="4.47" height="4.52" fill="#D73027"/><rect x="381.75" y="216.26" width="4.47" height="4.52" fill="#F46D43"/><rect x="386.22" y="216.26" width="13.41" height="4.52" fill="#FDAE61"/><rect x="399.63" y="216.26" width="4.47" height="4.52" fill="#FFFFBF"/><rect x="404.10" y="216.26" width="4.47" height="4.52" fill="#E0F3F8"/><rect x="408.57" y="216.26" width="4.47" height="4.52" fill="#FDAE61"/><rect x="413.04" y="216.26" width="13.41" height="4.52" fill="#F46D43"/><rect x="252.12" y="220.73" width="4.47" height="4.52" fill="#ABD9E9"/><rect x="265.53" y="220.73" width="4.47" height="4.52" fill="#FDAE61"/><rect x="270.00" y="220.73" width="4.47" height="4.52" fill="#E0F3F8"/><rect x="274.47" y="220.73" width="4.47" height="4.52" fill="#FFFFBF"/><rect x="278.94" y="220.73" width="4.47" height="4.52" fill="#E0F3F8"/><rect x="283.41" y="220.73" width="4.47" height="4.52" fill="#ABD9E9"/><rect x="287.88" y="220.73" width="4.47" height="4.52" fill="#E0F3F8"/><rect x="292.35" y="220.73" width="4.47" height="4.52" fill="#FFFFBF"/><rect x="296.82" y="220.73" width="8.94" height="4.52" fill="#E0F3F8"/><rect x="305.76" y="220.73" width="4.47" height="4.52" fill="#4575B4"/><rect x="310.23" y="220.73" width="17.88" height="4.52" fill="#ABD9E9"/><rect x="328.11" y="220.73" width="8.94" height="4.52" fill="#4575B4"/><rect x="337.05" y="220.73" width="13.41" height="4.52" fill="#ABD9E9"/><rect x="350.46" y="220.73" width="4.47" height="4.52" fill="#E0F3F8"/><rect x="354.93" y="220.73" width="4.47" height="4.52" fill="#4575B4"/><rect x="359.40" y="220.73" width="8.94" height="4.52" fill="#D73027"/><rect x="368.34" y="220.73" width="13.41" height="4.52" fill="#F46D43"/><rect x="381.75" y="220.73" width="8.94" height="4.52" fill="#D73027"/><rect x="390.69" y="220.73" width="4.47" height="4.52" fill="#F46D43"/><rect x="395.16" y="220.73" width="4.47" height="4.52" fill="#FDAE61"/><rect x="399.63" y="220.73" width="4.47" height="4.52" fill="#FFFFBF"/><rect x="404.10" y="220.73" width="4.47" height="4.52" fill="#E0F3F8"/><rect x="408.57" y="220.73" width="4.47" height="4.52" fill="#FDAE61"/><rect x="413.04" y="220.73" width="8.94" height="4.52" fill="#F46D43"/><rect x="261.06" y="225.20" width="13.41" height="4.52" fill="#FDAE61"/><rect x="274.47" y="225.20" width="4.47" height="4.52" fill="#FFFFBF"/><rect x="278.94" y="225.20" width="8.94" height="4.52" fill="#E0F3F8"/><rect x="287.88" y="225.20" width="8.94" height="4.52" fill="#FDAE61"/><rect x="296.82" y="225.20" width="4.47" height="4.52" fill="#FFFFBF"/><rect x="301.29" y="225.20" width="4.47" height="4.52" fill="#E0F3F8"/><rect x="305.76" y="225.20" width="13.41" height="4.52" fill="#ABD9E9"/><rect x="319.17" y="225.20" width="8.94" height="4.52" fill="#4575B4"/><rect x="328.11" y="225.20" width="4.47" height="4.52" fill="#E0F3F8"/><rect x="332.58" y="225.20" width="4.47" height="4.52" fill="#4575B4"/><rect x="337.05" y="225.20" width="13.41" height="4.52" fill="#ABD9E9"/><rect x="350.46" y="225.20" width="8.94" height="4.52" fill="#E0F3F8"/><rect x="359.40" y="225.20" width="8.94" height="4.52" fill="#D73027"/><rect x="377.28" y="225.20" width="4.47" height="4.52" fill="#F46D43"/><rect x="381.75" y="225.20" width="8.94" height="4.52" fill="#D73027"/><rect x="390.69" y="225.20" width="4.47" height="4.52" fill="#F46D43"/><rect x="395.16" y="225.20" width="4.47" height="4.52" fill="#FDAE61"/><rect x="399.63" y="225.20" width="8.94" height="4.52" fill="#FFFFBF"/><rect x="408.57" y="225.20" width="8.94" height="4.52" fill="#F46D43"/><rect x="265.53" y="229.67" width="4.47" height="4.52" fill="#FDAE61"/><rect x="270.00" y="229.67" width="4.47" height="4.52" fill="#FEE090"/><rect x="274.47" y="229.67" width="4.47" height="4.52" fill="#FFFFBF"/><rect x="278.94" y="229.67" width="4.47" height="4.52" fill="#E0F3F8"/><rect x="283.41" y="229.67" width="4.47" height="4.52" fill="#F46D43"/><rect x="287.88" y="229.67" width="8.94" height="4.52" fill="#FDAE61"/><rect x="296.82" y="229.67" width="4.47" height="4.52" fill="#E0F3F8"/><rect x="301.29" y="229.67" width="4.47" height="4.52" fill="#ABD9E9"/><rect x="305.76" y="229.67" width="4.47" height="4.52" fill="#4575B4"/><rect x="310.23" y="229.67" width="4.47" height="4.52" fill="#74ADD1"/><rect x="314.70" y="229.67" width="8.94" height="4.52" fill="#ABD9E9"/><rect x="323.64" y="229.67" width="17.88" height="4.52" fill="#4575B4"/><rect x="341.52" y="229.67" width="8.94" height="4.52" fill="#ABD9E9"/><rect x="350.46" y="229.67" width="4.47" height="4.52" fill="#FEE090"/><rect x="354.93" y="229.67" width="4.47" height="4.52" fill="#F46D43"/><rect x="359.40" y="229.67" width="4.47" height="4.52" fill="#D73027"/><rect x="363.87" y="229.67" width="4.47" height="4.52" fill="#F46D43"/><rect x="372.81" y="229.67" width="17.88" height="4.52" fill="#F46D43"/><rect x="390.69" y="229.67" width="4.47" height="4.52" fill="#D73027"/><rect x="395.16" y="229.67" width="4.47" height="4.52" fill="#F46D43"/><rect x="399.63" y="229.67" width="4.47" height="4.52" fill="#FEE090"/><rect x="404.10" y="229.67" width="8.94" height="4.52" fill="#FDAE61"/><rect x="265.53" y="234.14" width="4.47" height="4.52" fill="#FDAE61"/><rect x="270.00" y="234.14" width="8.94" height="4.52" fill="#F46D43"/><rect x="278.94" y="234.14" width="8.94" height="4.52" fill="#FFFFBF"/><rect x="287.88" y="234.14" width="8.94" height="4.52" fill="#FDAE61"/><rect x="296.82" y="234.14" width="8.94" height="4.52" fill="#E0F3F8"/><rect x="305.76" y="234.14" width="4.47" height="4.52" fill="#ABD9E9"/><rect x="310.23" y="234.14" width="4.47" height="4.52" fill="#74ADD1"/><rect x="314.70" y="234.14" width="8.94" height="4.52" fill="#ABD9E9"/><rect x="323.64" y="234.14" width="4.47" height="4.52" fill="#4575B4"/><rect x="328.11" y="234.14" width="4.47" height="4.52" fill="#ABD9E9"/><rect x="332.58" y="234.14" width="8.94" height="4.52" fill="#74ADD1"/><rect x="341.52" y="234.14" width="8.94" height="4.52" fill="#E0F3F8"/><rect x="350.46" y="234.14" width="4.47" height="4.52" fill="#FEE090"/><rect x="354.93" y="234.14" width="4.47" height="4.52" fill="#F46D43"/><rect x="359.40" y="234.14" width="4.47" height="4.52" fill="#D73027"/><rect x="363.87" y="234.14" width="4.47" height="4.52" fill="#FDAE61"/><rect x="368.34" y="234.14" width="8.94" height="4.52" fill="#F46D43"/><rect x="377.28" y="234.14" width="8.94" height="4.52" fill="#FDAE61"/><rect x="386.22" y="234.14" width="8.94" height="4.52" fill="#F46D43"/><rect x="395.16" y="234.14" width="4.47" height="4.52" fill="#FDAE61"/><rect x="399.63" y="234.14" width="8.94" height="4.52" fill="#F46D43"/><rect x="408.57" y="234.14" width="4.47" height="4.52" fill="#FEE090"/><rect x="270.00" y="238.61" width="8.94" height="4.52" fill="#F46D43"/><rect x="278.94" y="238.61" width="4.47" height="4.52" fill="#FDAE61"/><rect x="283.41" y="238.61" width="4.47" height="4.52" fill="#FEE090"/><rect x="287.88" y="238.61" width="8.94" height="4.52" fill="#FDAE61"/><rect x="296.82" y="238.61" width="4.47" height="4.52" fill="#E0F3F8"/><rect x="301.29" y="238.61" width="4.47" height="4.52" fill="#ABD9E9"/><rect x="305.76" y="238.61" width="4.47" height="4.52" fill="#4575B4"/><rect x="310.23" y="238.61" width="8.94" height="4.52" fill="#ABD9E9"/><rect x="319.17" y="238.61" width="13.41" height="4.52" fill="#4575B4"/><rect x="332.58" y="238.61" width="8.94" height="4.52" fill="#ABD9E9"/><rect x="341.52" y="238.61" width="8.94" height="4.52" fill="#E0F3F8"/><rect x="350.46" y="238.61" width="4.47" height="4.52" fill="#FFFFBF"/><rect x="354.93" y="238.61" width="4.47" height="4.52" fill="#F46D43"/><rect x="359.40" y="238.61" width="4.47" height="4.52" fill="#D73027"/><rect x="363.87" y="238.61" width="4.47" height="4.52" fill="#FDAE61"/><rect x="368.34" y="238.61" width="22.35" height="4.52" fill="#F46D43"/><rect x="390.69" y="238.61" width="4.47" height="4.52" fill="#FDAE61"/><rect x="395.16" y="238.61" width="13.41" height="4.52" fill="#F46D43"/><rect x="274.47" y="243.08" width="13.41" height="4.52" fill="#FDAE61"/><rect x="287.88" y="243.08" width="4.47" height="4.52" fill="#FEE090"/><rect x="292.35" y="243.08" width="4.47" height="4.52" fill="#4575B4"/><rect x="296.82" y="243.08" width="8.94" height="4.52" fill="#E0F3F8"/><rect x="305.76" y="243.08" width="4.47" height="4.52" fill="#ABD9E9"/><rect x="310.23" y="243.08" width="8.94" height="4.52" fill="#E0F3F8"/><rect x="319.17" y="243.08" width="8.94" height="4.52" fill="#ABD9E9"/><rect x="328.11" y="243.08" width="8.94" height="4.52" fill="#4575B4"/><rect x="337.05" y="243.08" width="4.47" height="4.52" fill="#ABD9E9"/><rect x="341.52" y="243.08" width="4.47" height="4.52" fill="#4575B4"/><rect x="345.99" y="243.08" width="4.47" height="4.52" fill="#ABD9E9"/><rect x="350.46" y="243.08" width="4.47" height="4.52" fill="#4575B4"/><rect x="354.93" y="243.08" width="4.47" height="4.52" fill="#D73027"/><rect x="359.40" y="243.08" width="4.47" height="4.52" fill="#FDAE61"/><rect x="363.87" y="243.08" width="4.47" height="4.52" fill="#FFFFBF"/><rect x="368.34" y="243.08" width="17.88" height="4.52" fill="#F46D43"/><rect x="386.22" y="243.08" width="4.47" height="4.52" fill="#FDAE61"/><rect x="390.69" y="243.08" width="4.47" height="4.52" fill="#F46D43"/><rect x="395.16" y="243.08" width="8.94" height="4.52" fill="#D73027"/><rect x="278.94" y="247.55" width="4.47" height="4.52" fill="#FFFFBF"/><rect x="283.41" y="247.55" width="4.47" height="4.52" fill="#4575B4"/><rect x="287.88" y="247.55" width="4.47" height="4.52" fill="#74ADD1"/><rect x="292.35" y="247.55" width="4.47" height="4.52" fill="#4575B4"/><rect x="296.82" y="247.55" width="4.47" height="4.52" fill="#E0F3F8"/><rect x="301.29" y="247.55" width="4.47" height="4.52" fill="#FFFFBF"/><rect x="305.76" y="247.55" width="4.47" height="4.52" fill="#E0F3F8"/><rect x="310.23" y="247.55" width="4.47" height="4.52" fill="#ABD9E9"/><rect x="314.70" y="247.55" width="8.94" height="4.52" fill="#4575B4"/><rect x="323.64" y="247.55" width="8.94" height="4.52" fill="#ABD9E9"/><rect x="332.58" y="247.55" width="22.35" height="4.52" fill="#4575B4"/><rect x="354.93" y="247.55" width="8.94" height="4.52" fill="#E0F3F8"/><rect x="363.87" y="247.55" width="4.47" height="4.52" fill="#FFFFBF"/><rect x="368.34" y="247.55" width="8.94" height="4.52" fill="#F46D43"/><rect x="377.28" y="247.55" width="4.47" height="4.52" fill="#FDAE61"/><rect x="381.75" y="247.55" width="13.41" height="4.52" fill="#F46D43"/><rect x="395.16" y="247.55" width="4.47" height="4.52" fill="#D73027"/><rect x="399.63" y="247.55" width="4.47" height="4.52" fill="#FFFFBF"/><rect x="278.94" y="252.02" width="8.94" height="4.52" fill="#FDAE61"/><rect x="287.88" y="252.02" width="8.94" height="4.52" fill="#FEE090"/><rect x="296.82" y="252.02" width="4.47" height="4.52" fill="#FFFFBF"/><rect x="301.29" y="252.02" width="4.47" height="4.52" fill="#E0F3F8"/><rect x="305.76" y="252.02" width="4.47" height="4.52" fill="#FDAE61"/><rect x="310.23" y="252.02" width="13.41" height="4.52" fill="#4575B4"/><rect x="323.64" y="252.02" width="4.47" height="4.52" fill="#FFFFBF"/><rect x="328.11" y="252.02" width="26.82" height="4.52" fill="#4575B4"/><rect x="354.93" y="252.02" width="8.94" height="4.52" fill="#E0F3F8"/><rect x="363.87" y="252.02" width="4.47" height="4.52" fill="#FFFFBF"/><rect x="368.34" y="252.02" width="8.94" height="4.52" fill="#E0F3F8"/><rect x="377.28" y="252.02" width="4.47" height="4.52" fill="#FEE090"/><rect x="381.75" y="252.02" width="17.88" height="4.52" fill="#F46D43"/><rect x="399.63" y="252.02" width="4.47" height="4.52" fill="#FFFFBF"/><rect x="278.94" y="256.49" width="4.47" height="4.52" fill="#FFFFBF"/><rect x="283.41" y="256.49" width="4.47" height="4.52" fill="#FEE090"/><rect x="287.88" y="256.49" width="4.47" height="4.52" fill="#FDAE61"/><rect x="292.35" y="256.49" width="8.94" height="4.52" fill="#FEE090"/><rect x="301.29" y="256.49" width="17.88" height="4.52" fill="#E0F3F8"/><rect x="319.17" y="256.49" width="4.47" height="4.52" fill="#FFFFBF"/><rect x="323.64" y="256.49" width="31.29" height="4.52" fill="#4575B4"/><rect x="354.93" y="256.49" width="4.47" height="4.52" fill="#E0F3F8"/><rect x="359.40" y="256.49" width="4.47" height="4.52" fill="#FEE090"/><rect x="363.87" y="256.49" width="4.47" height="4.52" fill="#F46D43"/><rect x="368.34" y="256.49" width="13.41" height="4.52" fill="#E0F3F8"/><rect x="381.75" y="256.49" width="22.35" height="4.52" fill="#F46D43"/><rect x="278.94" y="260.96" width="8.94" height="4.52" fill="#FFFFBF"/><rect x="287.88" y="260.96" width="4.47" height="4.52" fill="#FDAE61"/><rect x="292.35" y="260.96" width="13.41" height="4.52" fill="#FEE090"/><rect x="305.76" y="260.96" width="8.94" height="4.52" fill="#FFFFBF"/><rect x="314.70" y="260.96" width="4.47" height="4.52" fill="#FEE090"/><rect x="319.17" y="260.96" width="4.47" height="4.52" fill="#FFFFBF"/><rect x="323.64" y="260.96" width="22.35" height="4.52" fill="#4575B4"/><rect x="345.99" y="260.96" width="4.47" height="4.52" fill="#ABD9E9"/><rect x="350.46" y="260.96" width="4.47" height="4.52" fill="#E0F3F8"/><rect x="354.93" y="260.96" width="8.94" height="4.52" fill="#F46D43"/><rect x="363.87" y="260.96" width="8.94" height="4.52" fill="#D73027"/><rect x="372.81" y="260.96" width="17.88" height="4.52" fill="#F46D43"/><rect x="390.69" y="260.96" width="13.41" height="4.52" fill="#FDAE61"/><rect x="283.41" y="265.43" width="4.47" height="4.52" fill="#FFFFBF"/><rect x="287.88" y="265.43" width="4.47" height="4.52" fill="#F46D43"/><rect x="292.35" y="265.43" width="4.47" height="4.52" fill="#FDAE61"/><rect x="296.82" y="265.43" width="8.94" height="4.52" fill="#FEE090"/><rect x="305.76" y="265.43" width="8.94" height="4.52" fill="#FFFFBF"/><rect x="314.70" y="265.43" width="4.47" height="4.52" fill="#FEE090"/><rect x="319.17" y="265.43" width="4.47" height="4.52" fill="#FFFFBF"/><rect x="323.64" y="265.43" width="4.47" height="4.52" fill="#ABD9E9"/><rect x="328.11" y="265.43" width="4.47" height="4.52" fill="#E0F3F8"/><rect x="332.58" y="265.43" width="13.41" height="4.52" fill="#4575B4"/><rect x="345.99" y="265.43" width="4.47" height="4.52" fill="#ABD9E9"/><rect x="350.46" y="265.43" width="4.47" height="4.52" fill="#F46D43"/><rect x="354.93" y="265.43" width="22.35" height="4.52" fill="#D73027"/><rect x="377.28" y="265.43" width="4.47" height="4.52" fill="#F46D43"/><rect x="381.75" y="265.43" width="4.47" height="4.52" fill="#FDAE61"/><rect x="386.22" y="265.43" width="4.47" height="4.52" fill="#FEE090"/><rect x="390.69" y="265.43" width="4.47" height="4.52" fill="#FDAE61"/><rect x="395.16" y="265.43" width="8.94" height="4.52" fill="#FEE090"/><rect x="283.41" y="269.90" width="4.47" height="4.52" fill="#FFFFBF"/><rect x="287.88" y="269.90" width="4.47" height="4.52" fill="#FEE090"/><rect x="292.35" y="269.90" width="13.41" height="4.52" fill="#FFFFBF"/><rect x="305.76" y="269.90" width="4.47" height="4.52" fill="#E0F3F8"/><rect x="310.23" y="269.90" width="22.35" height="4.52" fill="#FFFFBF"/><rect x="332.58" y="269.90" width="4.47" height="4.52" fill="#ABD9E9"/><rect x="337.05" y="269.90" width="13.41" height="4.52" fill="#E0F3F8"/><rect x="350.46" y="269.90" width="4.47" height="4.52" fill="#F46D43"/><rect x="354.93" y="269.90" width="26.82" height="4.52" fill="#D73027"/><rect x="381.75" y="269.90" width="4.47" height="4.52" fill="#F46D43"/><rect x="386.22" y="269.90" width="13.41" height="4.52" fill="#FDAE61"/><rect x="399.63" y="269.90" width="4.47" height="4.52" fill="#F46D43"/><rect x="404.10" y="269.90" width="4.47" height="4.52" fill="#FEE090"/><rect x="283.41" y="274.37" width="8.94" height="4.52" fill="#FDAE61"/><rect x="292.35" y="274.37" width="8.94" height="4.52" fill="#FEE090"/><rect x="301.29" y="274.37" width="4.47" height="4.52" fill="#FFFFBF"/><rect x="305.76" y="274.37" width="4.47" height="4.52" fill="#E0F3F8"/><rect x="310.23" y="274.37" width="8.94" height="4.52" fill="#FFFFBF"/><rect x="319.17" y="274.37" width="4.47" height="4.52" fill="#E0F3F8"/><rect x="323.64" y="274.37" width="4.47" height="4.52" fill="#FEE090"/><rect x="328.11" y="274.37" width="4.47" height="4.52" fill="#FFFFBF"/><rect x="332.58" y="274.37" width="4.47" height="4.52" fill="#F46D43"/><rect x="337.05" y="274.37" width="4.47" height="4.52" fill="#FFFFBF"/><rect x="341.52" y="274.37" width="4.47" height="4.52" fill="#ABD9E9"/><rect x="345.99" y="274.37" width="4.47" height="4.52" fill="#FDAE61"/><rect x="350.46" y="274.37" width="4.47" height="4.52" fill="#F46D43"/><rect x="354.93" y="274.37" width="13.41" height="4.52" fill="#D73027"/><rect x="368.34" y="274.37" width="4.47" height="4.52" fill="#E0F3F8"/><rect x="372.81" y="274.37" width="8.94" height="4.52" fill="#D73027"/><rect x="381.75" y="274.37" width="4.47" height="4.52" fill="#FEE090"/><rect x="386.22" y="274.37" width="8.94" height="4.52" fill="#FFFFBF"/><rect x="395.16" y="274.37" width="4.47" height="4.52" fill="#FEE090"/><rect x="399.63" y="274.37" width="4.47" height="4.52" fill="#FDAE61"/><rect x="404.10" y="274.37" width="4.47" height="4.52" fill="#FEE090"/><rect x="417.51" y="274.37" width="4.47" height="4.52" fill="#74ADD1"/><rect x="283.41" y="278.84" width="17.88" height="4.52" fill="#FDAE61"/><rect x="301.29" y="278.84" width="13.41" height="4.52" fill="#FFFFBF"/><rect x="314.70" y="278.84" width="4.47" height="4.52" fill="#E0F3F8"/><rect x="319.17" y="278.84" width="8.94" height="4.52" fill="#FEE090"/><rect x="328.11" y="278.84" width="4.47" height="4.52" fill="#FFFFBF"/><rect x="332.58" y="278.84" width="17.88" height="4.52" fill="#F46D43"/><rect x="350.46" y="278.84" width="4.47" height="4.52" fill="#FDAE61"/><rect x="354.93" y="278.84" width="4.47" height="4.52" fill="#FFFFBF"/><rect x="359.40" y="278.84" width="4.47" height="4.52" fill="#F46D43"/><rect x="363.87" y="278.84" width="4.47" height="4.52" fill="#FDAE61"/><rect x="368.34" y="278.84" width="4.47" height="4.52" fill="#F46D43"/><rect x="372.81" y="278.84" width="8.94" height="4.52" fill="#D73027"/><rect x="381.75" y="278.84" width="4.47" height="4.52" fill="#F46D43"/><rect x="386.22" y="278.84" width="4.47" height="4.52" fill="#E0F3F8"/><rect x="390.69" y="278.84" width="17.88" height="4.52" fill="#FFFFBF"/><rect x="439.86" y="278.84" width="8.94" height="4.52" fill="#FEE090"/><rect x="278.94" y="283.31" width="4.47" height="4.52" fill="#FEE090"/><rect x="283.41" y="283.31" width="4.47" height="4.52" fill="#FDAE61"/><rect x="287.88" y="283.31" width="4.47" height="4.52" fill="#F46D43"/><rect x="292.35" y="283.31" width="8.94" height="4.52" fill="#FDAE61"/><rect x="301.29" y="283.31" width="4.47" height="4.52" fill="#FFFFBF"/><rect x="305.76" y="283.31" width="13.41" height="4.52" fill="#E0F3F8"/><rect x="319.17" y="283.31" width="4.47" height="4.52" fill="#FFFFBF"/><rect x="323.64" y="283.31" width="4.47" height="4.52" fill="#D73027"/><rect x="328.11" y="283.31" width="4.47" height="4.52" fill="#F46D43"/><rect x="332.58" y="283.31" width="8.94" height="4.52" fill="#FDAE61"/><rect x="341.52" y="283.31" width="4.47" height="4.52" fill="#F46D43"/><rect x="345.99" y="283.31" width="35.76" height="4.52" fill="#D73027"/><rect x="381.75" y="283.31" width="4.47" height="4.52" fill="#F46D43"/><rect x="386.22" y="283.31" width="17.88" height="4.52" fill="#FEE090"/><rect x="404.10" y="283.31" width="4.47" height="4.52" fill="#FDAE61"/><rect x="435.39" y="283.31" width="4.47" height="4.52" fill="#E0F3F8"/><rect x="439.86" y="283.31" width="13.41" height="4.52" fill="#FEE090"/><rect x="278.94" y="287.78" width="4.47" height="4.52" fill="#FEE090"/><rect x="283.41" y="287.78" width="8.94" height="4.52" fill="#F46D43"/><rect x="292.35" y="287.78" width="4.47" height="4.52" fill="#FDAE61"/><rect x="296.82" y="287.78" width="8.94" height="4.52" fill="#FFFFBF"/><rect x="305.76" y="287.78" width="8.94" height="4.52" fill="#E0F3F8"/><rect x="314.70" y="287.78" width="8.94" height="4.52" fill="#FFFFBF"/><rect x="323.64" y="287.78" width="4.47" height="4.52" fill="#4575B4"/><rect x="328.11" y="287.78" width="8.94" height="4.52" fill="#D73027"/><rect x="337.05" y="287.78" width="8.94" height="4.52" fill="#FEE090"/><rect x="345.99" y="287.78" width="8.94" height="4.52" fill="#D73027"/><rect x="354.93" y="287.78" width="13.41" height="4.52" fill="#F46D43"/><rect x="368.34" y="287.78" width="8.94" height="4.52" fill="#FDAE61"/><rect x="377.28" y="287.78" width="8.94" height="4.52" fill="#D73027"/><rect x="386.22" y="287.78" width="17.88" height="4.52" fill="#FEE090"/><rect x="404.10" y="287.78" width="4.47" height="4.52" fill="#FDAE61"/><rect x="435.39" y="287.78" width="17.88" height="4.52" fill="#FEE090"/><rect x="274.47" y="292.25" width="4.47" height="4.52" fill="#E0F3F8"/><rect x="278.94" y="292.25" width="4.47" height="4.52" fill="#FFFFBF"/><rect x="283.41" y="292.25" width="8.94" height="4.52" fill="#F46D43"/><rect x="292.35" y="292.25" width="4.47" height="4.52" fill="#FDAE61"/><rect x="296.82" y="292.25" width="8.94" height="4.52" fill="#E0F3F8"/><rect x="305.76" y="292.25" width="8.94" height="4.52" fill="#FFFFBF"/><rect x="314.70" y="292.25" width="4.47" height="4.52" fill="#4575B4"/><rect x="319.17" y="292.25" width="4.47" height="4.52" fill="#FFFFBF"/><rect x="323.64" y="292.25" width="4.47" height="4.52" fill="#F46D43"/><rect x="328.11" y="292.25" width="8.94" height="4.52" fill="#D73027"/><rect x="337.05" y="292.25" width="4.47" height="4.52" fill="#FDAE61"/><rect x="341.52" y="292.25" width="4.47" height="4.52" fill="#F46D43"/><rect x="345.99" y="292.25" width="8.94" height="4.52" fill="#D73027"/><rect x="354.93" y="292.25" width="4.47" height="4.52" fill="#E0F3F8"/><rect x="359.40" y="292.25" width="4.47" height="4.52" fill="#FEE090"/><rect x="363.87" y="292.25" width="13.41" height="4.52" fill="#FDAE61"/><rect x="377.28" y="292.25" width="4.47" height="4.52" fill="#F46D43"/><rect x="381.75" y="292.25" width="4.47" height="4.52" fill="#D73027"/><rect x="386.22" y="292.25" width="8.94" height="4.52" fill="#FEE090"/><rect x="395.16" y="292.25" width="8.94" height="4.52" fill="#FDAE61"/><rect x="404.10" y="292.25" width="4.47" height="4.52" fill="#FFFFBF"/><rect x="426.45" y="292.25" width="8.94" height="4.52" fill="#FFFFBF"/><rect x="435.39" y="292.25" width="4.47" height="4.52" fill="#FEE090"/><rect x="439.86" y="292.25" width="4.47" height="4.52" fill="#FFFFBF"/><rect x="444.33" y="292.25" width="8.94" height="4.52" fill="#FEE090"/><rect x="274.47" y="296.72" width="4.47" height="4.52" fill="#4575B4"/><rect x="278.94" y="296.72" width="4.47" height="4.52" fill="#E0F3F8"/><rect x="283.41" y="296.72" width="4.47" height="4.52" fill="#FEE090"/><rect x="287.88" y="296.72" width="4.47" height="4.52" fill="#FDAE61"/><rect x="292.35" y="296.72" width="4.47" height="4.52" fill="#F46D43"/><rect x="296.82" y="296.72" width="4.47" height="4.52" fill="#ABD9E9"/><rect x="301.29" y="296.72" width="4.47" height="4.52" fill="#FEE090"/><rect x="305.76" y="296.72" width="17.88" height="4.52" fill="#FFFFBF"/><rect x="323.64" y="296.72" width="4.47" height="4.52" fill="#FEE090"/><rect x="328.11" y="296.72" width="26.82" height="4.52" fill="#D73027"/><rect x="354.93" y="296.72" width="8.94" height="4.52" fill="#F46D43"/><rect x="363.87" y="296.72" width="4.47" height="4.52" fill="#D73027"/><rect x="368.34" y="296.72" width="8.94" height="4.52" fill="#FDAE61"/><rect x="377.28" y="296.72" width="13.41" height="4.52" fill="#F46D43"/><rect x="390.69" y="296.72" width="4.47" height="4.52" fill="#FEE090"/><rect x="395.16" y="296.72" width="8.94" height="4.52" fill="#FDAE61"/><rect x="404.10" y="296.72" width="4.47" height="4.52" fill="#FFFFBF"/><rect x="421.98" y="296.72" width="4.47" height="4.52" fill="#FFFFBF"/><rect x="426.45" y="296.72" width="13.41" height="4.52" fill="#FEE090"/><rect x="439.86" y="296.72" width="4.47" height="4.52" fill="#FFFFBF"/><rect x="444.33" y="296.72" width="4.47" height="4.52" fill="#FEE090"/><rect x="274.47" y="301.19" width="4.47" height="4.52" fill="#E0F3F8"/><rect x="278.94" y="301.19" width="8.94" height="4.52" fill="#ABD9E9"/><rect x="287.88" y="301.19" width="13.41" height="4.52" fill="#E0F3F8"/><rect x="301.29" y="301.19" width="4.47" height="4.52" fill="#FFFFBF"/><rect x="305.76" y="301.19" width="4.47" height="4.52" fill="#FDAE61"/><rect x="310.23" y="301.19" width="13.41" height="4.52" fill="#FFFFBF"/><rect x="323.64" y="301.19" width="4.47" height="4.52" fill="#4575B4"/><rect x="328.11" y="301.19" width="4.47" height="4.52" fill="#FFFFBF"/><rect x="332.58" y="301.19" width="4.47" height="4.52" fill="#FDAE61"/><rect x="337.05" y="301.19" width="4.47" height="4.52" fill="#F46D43"/><rect x="341.52" y="301.19" width="13.41" height="4.52" fill="#D73027"/><rect x="354.93" y="301.19" width="13.41" height="4.52" fill="#F46D43"/><rect x="368.34" y="301.19" width="4.47" height="4.52" fill="#D73027"/><rect x="372.81" y="301.19" width="4.47" height="4.52" fill="#FDAE61"/><rect x="377.28" y="301.19" width="4.47" height="4.52" fill="#FEE090"/><rect x="381.75" y="301.19" width="8.94" height="4.52" fill="#FDAE61"/><rect x="390.69" y="301.19" width="4.47" height="4.52" fill="#FEE090"/><rect x="421.98" y="301.19" width="8.94" height="4.52" fill="#FEE090"/><rect x="430.92" y="301.19" width="4.47" height="4.52" fill="#FFFFBF"/><rect x="435.39" y="301.19" width="8.94" height="4.52" fill="#FEE090"/><rect x="444.33" y="301.19" width="4.47" height="4.52" fill="#E0F3F8"/><rect x="274.47" y="305.66" width="4.47" height="4.52" fill="#ABD9E9"/><rect x="278.94" y="305.66" width="13.41" height="4.52" fill="#E0F3F8"/><rect x="292.35" y="305.66" width="4.47" height="4.52" fill="#ABD9E9"/><rect x="296.82" y="305.66" width="4.47" height="4.52" fill="#E0F3F8"/><rect x="301.29" y="305.66" width="13.41" height="4.52" fill="#FFFFBF"/><rect x="314.70" y="305.66" width="4.47" height="4.52" fill="#E0F3F8"/><rect x="319.17" y="305.66" width="13.41" height="4.52" fill="#FFFFBF"/><rect x="332.58" y="305.66" width="4.47" height="4.52" fill="#E0F3F8"/><rect x="337.05" y="305.66" width="4.47" height="4.52" fill="#FEE090"/><rect x="341.52" y="305.66" width="26.82" height="4.52" fill="#F46D43"/><rect x="368.34" y="305.66" width="4.47" height="4.52" fill="#D73027"/><rect x="372.81" y="305.66" width="4.47" height="4.52" fill="#F46D43"/><rect x="377.28" y="305.66" width="4.47" height="4.52" fill="#FEE090"/><rect x="381.75" y="305.66" width="4.47" height="4.52" fill="#FFFFBF"/><rect x="386.22" y="305.66" width="4.47" height="4.52" fill="#E0F3F8"/><rect x="421.98" y="305.66" width="8.94" height="4.52" fill="#FEE090"/><rect x="430.92" y="305.66" width="4.47" height="4.52" fill="#FFFFBF"/><rect x="435.39" y="305.66" width="4.47" height="4.52" fill="#E0F3F8"/><rect x="439.86" y="305.66" width="8.94" height="4.52" fill="#FFFFBF"/><rect x="278.94" y="310.13" width="4.47" height="4.52" fill="#E0F3F8"/><rect x="283.41" y="310.13" width="4.47" height="4.52" fill="#ABD9E9"/><rect x="287.88" y="310.13" width="13.41" height="4.52" fill="#E0F3F8"/><rect x="301.29" y="310.13" width="4.47" height="4.52" fill="#FFFFBF"/><rect x="305.76" y="310.13" width="13.41" height="4.52" fill="#E0F3F8"/><rect x="319.17" y="310.13" width="4.47" height="4.52" fill="#FEE090"/><rect x="323.64" y="310.13" width="13.41" height="4.52" fill="#FFFFBF"/><rect x="337.05" y="310.13" width="8.94" height="4.52" fill="#FEE090"/><rect x="345.99" y="310.13" width="4.47" height="4.52" fill="#FDAE61"/><rect x="350.46" y="310.13" width="8.94" height="4.52" fill="#FEE090"/><rect x="359.40" y="310.13" width="4.47" height="4.52" fill="#F46D43"/><rect x="363.87" y="310.13" width="8.94" height="4.52" fill="#D73027"/><rect x="372.81" y="310.13" width="4.47" height="4.52" fill="#F46D43"/><rect x="377.28" y="310.13" width="8.94" height="4.52" fill="#FEE090"/><rect x="421.98" y="310.13" width="8.94" height="4.52" fill="#FEE090"/><rect x="430.92" y="310.13" width="13.41" height="4.52" fill="#FFFFBF"/><rect x="444.33" y="310.13" width="4.47" height="4.52" fill="#E0F3F8"/><rect x="283.41" y="314.60" width="8.94" height="4.52" fill="#ABD9E9"/><rect x="292.35" y="314.60" width="26.82" height="4.52" fill="#E0F3F8"/><rect x="319.17" y="314.60" width="4.47" height="4.52" fill="#FEE090"/><rect x="323.64" y="314.60" width="4.47" height="4.52" fill="#FFFFBF"/><rect x="328.11" y="314.60" width="17.88" height="4.52" fill="#FEE090"/><rect x="345.99" y="314.60" width="8.94" height="4.52" fill="#FDAE61"/><rect x="354.93" y="314.60" width="22.35" height="4.52" fill="#F46D43"/><rect x="377.28" y="314.60" width="4.47" height="4.52" fill="#FEE090"/><rect x="421.98" y="314.60" width="8.94" height="4.52" fill="#FEE090"/><rect x="430.92" y="314.60" width="4.47" height="4.52" fill="#FFFFBF"/><rect x="435.39" y="314.60" width="4.47" height="4.52" fill="#FEE090"/><rect x="439.86" y="314.60" width="4.47" height="4.52" fill="#FFFFBF"/><rect x="471.15" y="314.60" width="4.47" height="4.52" fill="#4575B4"/><rect x="287.88" y="319.07" width="4.47" height="4.52" fill="#E0F3F8"/><rect x="292.35" y="319.07" width="4.47" height="4.52" fill="#ABD9E9"/><rect x="296.82" y="319.07" width="22.35" height="4.52" fill="#E0F3F8"/><rect x="319.17" y="319.07" width="8.94" height="4.52" fill="#FFFFBF"/><rect x="328.11" y="319.07" width="8.94" height="4.52" fill="#FEE090"/><rect x="337.05" y="319.07" width="4.47" height="4.52" fill="#FFFFBF"/><rect x="341.52" y="319.07" width="4.47" height="4.52" fill="#FEE090"/><rect x="345.99" y="319.07" width="17.88" height="4.52" fill="#FDAE61"/><rect x="363.87" y="319.07" width="4.47" height="4.52" fill="#FFFFBF"/><rect x="368.34" y="319.07" width="8.94" height="4.52" fill="#FEE090"/><rect x="377.28" y="319.07" width="4.47" height="4.52" fill="#FFFFBF"/><rect x="381.75" y="319.07" width="4.47" height="4.52" fill="#FEE090"/><rect x="417.51" y="319.07" width="13.41" height="4.52" fill="#FEE090"/><rect x="430.92" y="319.07" width="8.94" height="4.52" fill="#FFFFBF"/><rect x="439.86" y="319.07" width="4.47" height="4.52" fill="#E0F3F8"/><rect x="471.15" y="319.07" width="4.47" height="4.52" fill="#ABD9E9"/><rect x="287.88" y="323.54" width="4.47" height="4.52" fill="#ABD9E9"/><rect x="292.35" y="323.54" width="8.94" height="4.52" fill="#E0F3F8"/><rect x="301.29" y="323.54" width="4.47" height="4.52" fill="#ABD9E9"/><rect x="305.76" y="323.54" width="13.41" height="4.52" fill="#E0F3F8"/><rect x="319.17" y="323.54" width="22.35" height="4.52" fill="#FFFFBF"/><rect x="341.52" y="323.54" width="4.47" height="4.52" fill="#FEE090"/><rect x="345.99" y="323.54" width="4.47" height="4.52" fill="#FDAE61"/><rect x="350.46" y="323.54" width="17.88" height="4.52" fill="#D73027"/><rect x="368.34" y="323.54" width="4.47" height="4.52" fill="#FFFFBF"/><rect x="372.81" y="323.54" width="4.47" height="4.52" fill="#FEE090"/><rect x="377.28" y="323.54" width="8.94" height="4.52" fill="#FFFFBF"/><rect x="417.51" y="323.54" width="13.41" height="4.52" fill="#FEE090"/><rect x="430.92" y="323.54" width="4.47" height="4.52" fill="#FFFFBF"/><rect x="435.39" y="323.54" width="4.47" height="4.52" fill="#FEE090"/><rect x="439.86" y="323.54" width="4.47" height="4.52" fill="#E0F3F8"/><rect x="287.88" y="328.01" width="4.47" height="4.52" fill="#ABD9E9"/><rect x="292.35" y="328.01" width="4.47" height="4.52" fill="#E0F3F8"/><rect x="296.82" y="328.01" width="8.94" height="4.52" fill="#ABD9E9"/><rect x="305.76" y="328.01" width="17.88" height="4.52" fill="#E0F3F8"/><rect x="323.64" y="328.01" width="13.41" height="4.52" fill="#FFFFBF"/><rect x="337.05" y="328.01" width="4.47" height="4.52" fill="#FEE090"/><rect x="341.52" y="328.01" width="4.47" height="4.52" fill="#F46D43"/><rect x="345.99" y="328.01" width="22.35" height="4.52" fill="#D73027"/><rect x="368.34" y="328.01" width="4.47" height="4.52" fill="#E0F3F8"/><rect x="372.81" y="328.01" width="4.47" height="4.52" fill="#FFFFBF"/><rect x="377.28" y="328.01" width="8.94" height="4.52" fill="#FDAE61"/><rect x="417.51" y="328.01" width="8.94" height="4.52" fill="#FEE090"/><rect x="426.45" y="328.01" width="8.94" height="4.52" fill="#FFFFBF"/><rect x="435.39" y="328.01" width="4.47" height="4.52" fill="#FEE090"/><rect x="287.88" y="332.48" width="4.47" height="4.52" fill="#ABD9E9"/><rect x="292.35" y="332.48" width="4.47" height="4.52" fill="#E0F3F8"/><rect x="296.82" y="332.48" width="13.41" height="4.52" fill="#ABD9E9"/><rect x="310.23" y="332.48" width="13.41" height="4.52" fill="#E0F3F8"/><rect x="323.64" y="332.48" width="8.94" height="4.52" fill="#FFFFBF"/><rect x="332.58" y="332.48" width="4.47" height="4.52" fill="#FEE090"/><rect x="337.05" y="332.48" width="4.47" height="4.52" fill="#F46D43"/><rect x="341.52" y="332.48" width="26.82" height="4.52" fill="#D73027"/><rect x="368.34" y="332.48" width="8.94" height="4.52" fill="#FFFFBF"/><rect x="377.28" y="332.48" width="8.94" height="4.52" fill="#FEE090"/><rect x="417.51" y="332.48" width="22.35" height="4.52" fill="#FEE090"/><rect x="287.88" y="336.95" width="26.82" height="4.52" fill="#ABD9E9"/><rect x="314.70" y="336.95" width="8.94" height="4.52" fill="#E0F3F8"/><rect x="323.64" y="336.95" width="4.47" height="4.52" fill="#FDAE61"/><rect x="328.11" y="336.95" width="40.23" height="4.52" fill="#D73027"/><rect x="368.34" y="336.95" width="4.47" height="4.52" fill="#FEE090"/><rect x="372.81" y="336.95" width="4.47" height="4.52" fill="#FFFFBF"/><rect x="421.98" y="336.95" width="13.41" height="4.52" fill="#FEE090"/><rect x="292.35" y="341.42" width="22.35" height="4.52" fill="#ABD9E9"/><rect x="314.70" y="341.42" width="4.47" height="4.52" fill="#D73027"/><rect x="319.17" y="341.42" width="4.47" height="4.52" fill="#F46D43"/><rect x="323.64" y="341.42" width="44.70" height="4.52" fill="#D73027"/><rect x="368.34" y="341.42" width="4.47" height="4.52" fill="#FDAE61"/><rect x="292.35" y="345.89" width="22.35" height="4.52" fill="#ABD9E9"/><rect x="314.70" y="345.89" width="58.11" height="4.52" fill="#D73027"/><rect x="292.35" y="350.36" width="4.47" height="4.52" fill="#ABD9E9"/><rect x="296.82" y="350.36" width="8.94" height="4.52" fill="#D73027"/><rect x="305.76" y="350.36" width="8.94" height="4.52" fill="#F46D43"/><rect x="314.70" y="350.36" width="58.11" height="4.52" fill="#D73027"/><rect x="296.82" y="354.83" width="71.52" height="4.52" fill="#D73027"/><rect x="301.29" y="359.30" width="62.58" height="4.52" fill="#D73027"/><rect x="301.29" y="363.77" width="62.58" height="4.52" fill="#D73027"/><rect x="301.29" y="368.24" width="58.11" height="4.52" fill="#D73027"/><rect x="305.76" y="372.71" width="44.70" height="4.52" fill="#D73027"/><rect x="305.76" y="377.18" width="22.35" height="4.52" fill="#D73027"/><rect x="332.58" y="377.18" width="4.47" height="4.52" fill="#D73027"/>
</g>
<g clip-path="url(#cp)">
<path d="M198.9 65.2 L201.6 64.7 L205.6 67.9 L211.9 67.4 L215.5 68.3 L220.8 65.6 L225.3 64.7 L231.1 62.0 L238.7 60.7 L247.7 60.7 L256.1 59.8 L262.8 60.0 L269.1 58.5 L271.3 60.7 L274.9 59.8 L272.7 62.5 L272.2 65.6 L274.9 67.9 L270.4 71.9 L274.0 74.6 L276.7 77.0 L282.1 78.6 L284.3 78.1 L293.2 80.8 L294.6 84.4 L301.3 86.6 L310.2 89.8 L314.7 87.5 L315.1 82.2 L321.4 78.6 L328.6 79.5 L337.1 83.9 L346.0 85.3 L354.9 87.5 L359.4 85.3 L363.9 83.9 L369.7 85.3 L378.2 85.3 L381.3 93.3 L379.1 100.0 L375.5 97.4 L371.0 91.1 L370.1 92.9 L372.8 98.7 L376.4 103.2 L379.5 109.0 L384.0 117.9 L384.9 122.4 L390.2 126.9 L391.6 131.3 L391.6 137.6 L392.9 141.6 L396.9 144.7 L401.0 153.7 L402.3 156.4 L405.4 158.1 L409.5 160.4 L414.8 166.2 L418.0 168.4 L418.9 171.6 L419.3 173.3 L416.6 173.8 L418.2 174.0 L422.0 178.7 L426.4 178.7 L433.2 177.4 L437.6 175.6 L444.3 174.7 L452.4 172.0 L454.2 172.5 L453.7 178.7 L452.4 183.2 L448.8 189.4 L444.3 198.4 L439.9 205.1 L430.9 214.0 L427.8 216.3 L422.0 220.7 L415.3 227.0 L411.2 232.7 L408.1 235.5 L404.5 240.0 L402.3 243.5 L400.5 246.1 L398.7 252.0 L401.0 255.6 L401.9 261.0 L401.0 265.4 L405.5 271.3 L406.8 281.1 L407.7 290.0 L404.1 297.6 L395.2 302.5 L390.2 305.7 L381.8 313.7 L383.5 321.3 L384.0 330.2 L381.8 335.6 L372.8 338.3 L371.0 341.4 L372.1 344.7 L370.1 352.6 L363.9 358.9 L359.4 365.1 L350.5 372.3 L341.5 376.3 L332.6 377.6 L323.6 377.6 L314.7 380.8 L308.0 378.1 L307.1 371.8 L306.7 366.9 L302.6 360.6 L298.3 353.0 L292.8 344.5 L290.1 332.5 L290.1 327.6 L285.2 318.6 L278.9 307.9 L277.7 302.5 L278.0 296.7 L280.3 290.0 L285.2 281.1 L287.0 274.4 L284.3 265.4 L282.5 256.5 L280.4 252.5 L279.7 251.1 L278.5 247.7 L274.9 243.0 L268.7 236.4 L264.6 228.8 L267.3 223.4 L267.7 220.7 L269.1 218.5 L268.4 215.0 L268.7 209.6 L265.1 205.1 L263.3 203.9 L256.6 205.5 L252.6 206.0 L247.7 200.2 L245.0 197.0 L240.5 196.6 L237.3 197.2 L233.7 197.8 L230.0 198.7 L225.3 200.2 L216.4 203.7 L212.5 202.9 L207.4 202.0 L198.5 203.7 L190.8 205.7 L185.1 202.0 L177.0 197.0 L174.2 194.8 L169.4 191.7 L166.3 187.2 L166.1 185.4 L164.1 182.7 L159.6 177.8 L157.7 175.9 L155.1 173.8 L150.7 169.9 L150.0 166.4 L150.6 164.5 L147.1 159.5 L151.5 153.7 L153.8 144.7 L152.4 138.0 L149.0 131.3 L149.2 129.5 L153.8 118.8 L158.7 113.4 L160.9 108.1 L166.3 101.4 L167.6 100.5 L175.7 96.5 L180.6 93.3 L182.4 89.3 L181.5 84.4 L183.7 79.9 L187.3 76.3 L191.3 75.0 L194.9 73.2 L198.5 67.9 L198.9 65.2" fill="none" stroke="#333" stroke-width="0.85" stroke-linejoin="round"/>
<path d="M378.2 85.3 L381.3 93.3" fill="none" stroke="#333" stroke-width="0.85" stroke-linejoin="round"/>
<path d="M446.7 280.9 L448.0 282.9 L449.1 285.8 L449.8 291.2 L450.9 293.3 L450.5 295.4 L449.7 296.7 L448.2 294.1 L447.3 295.4 L448.2 298.7 L447.8 300.7 L446.6 301.7 L446.3 305.4 L444.5 310.7 L442.3 316.8 L439.5 325.3 L437.8 331.5 L435.8 336.7 L432.2 337.8 L428.3 339.6 L425.7 338.5 L422.2 336.9 L420.9 334.5 L420.6 330.6 L419.1 327.0 L418.6 323.8 L419.4 320.6 L421.5 319.8 L421.5 318.3 L423.6 314.9 L424.0 312.1 L423.0 310.0 L422.2 307.1 L421.8 303.0 L423.4 300.5 L424.0 297.7 L426.2 297.5 L428.7 296.6 L430.3 295.8 L432.3 295.7 L434.9 293.2 L438.6 290.4 L439.9 288.2 L439.3 286.3 L441.2 286.8 L443.7 283.7 L443.7 281.0 L445.2 279.0 L446.7 280.9" fill="none" stroke="#333" stroke-width="0.85" stroke-linejoin="round"/>
<path d="M215.6 68.0 L217.3 70.9 L217.6 73.6 L219.1 78.3 L220.3 79.3 L219.4 81.0 L213.6 81.8 L211.6 83.4 L209.0 83.8 L208.8 87.1 L203.6 88.9 L201.9 91.1 L198.2 92.3 L193.7 93.0 L186.5 96.3 L186.5 101.6" fill="none" stroke="#333" stroke-width="0.85" stroke-linejoin="round"/>
<path d="M186.5 101.6 L186.5 102.7 L186.5 109.5 L171.8 109.3 L171.9 120.7 L167.8 121.1 L166.7 123.4 L167.5 129.9 L150.0 129.9 L149.0 131.3" fill="none" stroke="#333" stroke-width="0.85" stroke-linejoin="round"/>
<path d="M149.2 129.5 L159.4 129.1 L159.9 127.5 L161.7 125.5 L163.2 119.3 L169.4 114.5 L171.5 108.8 L172.9 108.5 L174.4 105.0 L178.1 104.6 L179.8 105.1 L181.8 105.1 L183.2 104.1 L186.0 104.0 L185.9 101.6 L186.5 101.6" fill="none" stroke="#333" stroke-width="0.85" stroke-linejoin="round"/>
<path d="M186.5 102.7 L203.3 113.6 L218.4 123.3 L233.4 133.1 L234.5 135.2 L237.3 136.4 L239.4 137.2 L239.4 140.0 L244.4 139.6 L250.7 137.6 L263.6 128.8 L278.9 120.3" fill="none" stroke="#333" stroke-width="0.85" stroke-linejoin="round"/>
<path d="M278.9 120.3 L277.0 117.5 L273.4 115.4 L271.3 116.2 L269.8 113.7 L269.6 111.8 L267.0 108.6 L268.7 106.7 L268.3 103.9 L268.9 101.4 L268.6 99.4 L269.4 95.7 L269.2 93.7 L267.7 89.7 L265.8 81.7 L263.0 79.9 L263.0 78.8 L259.3 76.2 L258.9 72.8 L261.7 70.3 L262.8 66.6 L262.0 62.4 L262.9 60.0" fill="none" stroke="#333" stroke-width="0.85" stroke-linejoin="round"/>
<path d="M267.7 89.7 L269.9 88.7 L270.3 86.8 L272.9 83.2 L274.2 81.8 L276.4 80.5 L276.7 77.1" fill="none" stroke="#333" stroke-width="0.85" stroke-linejoin="round"/>
<path d="M203.3 113.6 L196.5 113.6 L198.6 132.9 L200.8 152.2 L201.5 152.8 L200.5 155.9 L182.6 156.0 L181.9 157.0 L180.2 156.7 L177.7 157.6 L174.6 156.3 L173.1 156.4 L172.4 159.0 L170.9 159.8" fill="none" stroke="#333" stroke-width="0.85" stroke-linejoin="round"/>
<path d="M170.9 159.8 L167.9 156.8 L165.2 153.5 L162.3 152.3 L160.1 151.0 L157.6 151.0 L155.5 152.0 L153.2 151.6 L151.7 153.1" fill="none" stroke="#333" stroke-width="0.85" stroke-linejoin="round"/>
<path d="M170.9 159.8 L171.1 162.7 L172.0 165.2 L173.7 166.5 L174.0 168.2 L173.9 169.6 L173.2 169.8 L170.8 169.5 L169.4 170.1 L166.2 169.0 L164.1 168.9 L155.8 168.7 L154.6 169.2 L153.1 169.1 L150.7 169.9" fill="none" stroke="#333" stroke-width="0.85" stroke-linejoin="round"/>
<path d="M150.0 166.4 L154.1 166.5 L155.2 165.9 L156.0 165.8 L157.6 164.8 L159.5 165.7 L161.5 165.8 L163.4 164.8 L162.5 163.6 L161.0 164.3 L159.6 164.3 L157.9 163.2 L156.5 163.2 L155.5 164.3 L150.6 164.5" fill="none" stroke="#333" stroke-width="0.85" stroke-linejoin="round"/>
<path d="M164.1 168.9 L164.0 170.4 L163.5 170.9 L163.9 172.4 L163.2 173.0 L162.2 173.0 L161.0 173.8 L159.6 173.7 L157.7 175.9" fill="none" stroke="#333" stroke-width="0.85" stroke-linejoin="round"/>
<path d="M173.2 169.8 L174.8 171.2 L176.0 170.6 L176.7 170.8 L178.0 171.9 L179.8 172.3 L181.1 171.3 L182.5 170.7 L183.6 170.1 L184.5 170.2 L185.5 171.2 L186.0 172.4 L187.8 174.3 L186.9 175.4 L186.8 176.9 L187.7 176.4 L188.3 177.0 L188.0 178.3 L189.4 179.6 L188.5 179.9 L188.2 181.4 L189.2 183.3 L190.3 186.8 L188.6 187.4 L188.2 188.0 L188.6 188.9 L188.3 190.8 L187.6 190.8" fill="none" stroke="#333" stroke-width="0.85" stroke-linejoin="round"/>
<path d="M166.1 185.4 L168.5 183.5 L169.0 182.2 L169.7 181.2 L171.0 181.1 L172.0 180.3 L175.6 180.3 L176.8 181.9 L177.8 183.8 L177.7 185.1 L178.4 186.2 L178.3 187.9 L179.6 187.6 L181.7 187.0 L183.6 189.8 L183.3 191.5 L184.1 192.5 L185.4 192.5 L186.3 190.7 L187.6 190.8 L187.3 192.1 L187.8 194.3 L186.9 196.3 L188.2 197.5 L189.6 197.8 L191.5 199.7 L191.6 201.5 L191.1 202.0 L190.8 205.7" fill="none" stroke="#333" stroke-width="0.85" stroke-linejoin="round"/>
<path d="M179.6 187.6 L177.5 189.7 L175.5 192.1 L175.2 193.4 L174.2 194.8" fill="none" stroke="#333" stroke-width="0.85" stroke-linejoin="round"/>
<path d="M189.4 179.6 L190.0 179.2 L191.2 179.8 L194.7 179.9 L195.5 178.6 L196.3 178.7 L197.5 178.2 L198.3 180.1 L199.3 179.5 L201.2 178.8 L203.2 179.8 L203.9 181.3 L205.9 182.2 L207.5 181.1 L209.6 180.9 L212.6 182.1 L213.9 188.5 L212.0 192.2 L210.8 197.3 L212.7 201.1 L212.5 202.9" fill="none" stroke="#333" stroke-width="0.85" stroke-linejoin="round"/>
<path d="M201.2 178.8 L200.8 176.3 L202.1 174.3 L202.0 172.9 L205.5 169.1 L206.2 166.1 L207.4 165.0 L209.6 165.6 L211.4 164.7 L212.0 163.5 L215.5 161.5 L216.4 160.1 L220.5 158.3 L223.0 157.6 L224.1 158.5 L227.0 158.5 L229.9 158.3 L231.5 156.7 L237.6 156.3 L241.6 155.6 L241.9 152.9 L244.4 149.9 L244.4 139.6" fill="none" stroke="#333" stroke-width="0.85" stroke-linejoin="round"/>
<path d="M227.0 158.5 L226.6 160.7 L227.2 162.7 L229.7 165.6 L229.9 167.8 L235.0 168.7 L234.9 171.8 L236.4 170.5 L238.0 170.5 L241.4 173.1" fill="none" stroke="#333" stroke-width="0.85" stroke-linejoin="round"/>
<path d="M212.6 182.1 L212.1 178.7 L212.2 176.2 L219.9 176.0 L221.9 176.3 L223.3 175.6 L225.4 175.9 L229.3 176.0 L230.8 175.5 L231.8 173.6 L234.0 173.2 L234.9 171.8" fill="none" stroke="#333" stroke-width="0.85" stroke-linejoin="round"/>
<path d="M225.4 175.9 L225.1 177.3 L227.0 179.7 L227.0 182.9 L227.4 186.4 L228.5 188.1 L227.5 192.1 L227.8 194.3 L229.1 197.1 L230.0 198.7" fill="none" stroke="#333" stroke-width="0.85" stroke-linejoin="round"/>
<path d="M229.3 176.0 L228.7 178.4 L230.1 179.7 L231.7 181.3 L231.8 183.5 L232.7 184.4 L232.5 194.7 L233.7 197.8" fill="none" stroke="#333" stroke-width="0.85" stroke-linejoin="round"/>
<path d="M241.4 173.1 L241.3 174.6 L242.3 177.2 L241.4 179.0 L241.9 180.2 L239.7 183.0 L238.3 184.3 L237.5 187.2 L237.6 190.0 L237.3 197.2" fill="none" stroke="#333" stroke-width="0.85" stroke-linejoin="round"/>
<path d="M241.4 173.1 L241.7 169.1 L243.0 167.3 L243.7 164.7 L244.8 163.7 L249.6 163.2 L254.1 164.9 L255.8 166.6 L258.1 166.6 L260.2 165.6 L265.6 167.8 L267.9 167.8 L270.5 165.8 L273.1 166.0 L274.4 165.3 L276.8 165.6 L280.3 166.9 L283.8 164.4 L284.8 164.6 L287.8 169.5 L288.7 169.4" fill="none" stroke="#333" stroke-width="0.85" stroke-linejoin="round"/>
<path d="M288.7 169.4 L288.8 168.0 L290.1 167.7 L290.6 165.6 L287.7 165.5 L287.7 162.6 L285.8 161.0 L287.7 155.1 L293.5 150.9 L293.7 145.1 L295.4 136.0 L296.4 134.1 L294.5 132.5 L294.5 131.1 L292.8 129.9 L291.7 123.0" fill="none" stroke="#333" stroke-width="0.85" stroke-linejoin="round"/>
<path d="M278.9 120.3 L286.0 122.2 L288.5 124.7 L291.7 123.0 L296.2 120.6 L314.0 129.1 L331.9 137.7" fill="none" stroke="#333" stroke-width="0.85" stroke-linejoin="round"/>
<path d="M331.9 137.7 L331.9 135.8 L337.1 135.8 L337.1 126.9 L337.1 110.4 L337.1 94.5 L335.7 90.9 L336.9 88.1 L336.2 86.2 L337.8 84.1" fill="none" stroke="#333" stroke-width="0.85" stroke-linejoin="round"/>
<path d="M337.1 126.9 L355.0 126.9 L372.4 126.9 L390.1 126.9" fill="none" stroke="#333" stroke-width="0.85" stroke-linejoin="round"/>
<path d="M331.9 137.7 L332.1 155.4 L328.2 155.1 L326.2 158.4 L325.0 161.1 L325.9 162.2 L324.4 163.6 L325.0 165.4 L323.8 167.3 L323.4 168.9 L324.9 168.7 L325.9 170.4 L325.9 173.0 L327.6 174.3 L327.5 175.4" fill="none" stroke="#333" stroke-width="0.85" stroke-linejoin="round"/>
<path d="M327.5 175.4 L324.7 176.2 L322.4 178.0 L319.2 182.8 L315.0 184.9 L310.6 184.7 L309.4 185.1 L309.8 186.6 L307.5 188.2 L305.6 189.9 L300.0 191.6 L298.9 190.6 L298.1 190.6 L297.3 191.7 L293.6 192.0" fill="none" stroke="#333" stroke-width="0.85" stroke-linejoin="round"/>
<path d="M293.6 192.0 L294.3 190.8 L292.9 187.7 L292.3 185.9 L290.3 185.1 L287.7 182.5 L288.6 180.4 L290.7 180.9 L291.9 180.5 L294.5 180.6 L292.0 176.5 L292.2 173.5 L291.9 170.6 L290.1 167.7" fill="none" stroke="#333" stroke-width="0.85" stroke-linejoin="round"/>
<path d="M288.7 169.4 L290.5 171.2 L290.0 172.0 L289.8 173.5 L286.0 176.9 L284.8 179.8 L284.2 182.1 L283.2 183.1 L282.3 186.2 L279.9 188.1 L279.2 190.3 L278.2 192.1 L277.8 194.0 L274.7 195.5 L272.2 193.6 L270.5 193.7 L267.9 196.4 L266.6 196.4 L264.5 200.7 L263.3 203.9" fill="none" stroke="#333" stroke-width="0.85" stroke-linejoin="round"/>
<path d="M293.6 192.0 L291.4 196.5 L290.3 197.4 L289.9 200.8 L290.4 202.7 L290.0 204.1 L292.1 206.4 L292.5 208.0 L294.2 210.3 L296.2 211.7 L296.4 213.8 L296.9 215.1 L296.6 217.5 L293.0 216.4 L289.4 215.2 L283.8 215.1 L283.2 214.8 L280.5 215.4 L277.8 214.8 L275.7 215.1 L268.4 215.0" fill="none" stroke="#333" stroke-width="0.85" stroke-linejoin="round"/>
<path d="M275.7 215.1 L275.8 220.5 L269.2 220.4 L267.7 220.7" fill="none" stroke="#333" stroke-width="0.85" stroke-linejoin="round"/>
<path d="M283.8 215.1 L283.4 217.0 L284.7 219.3 L288.0 218.9 L289.1 219.8 L287.2 225.0 L289.3 227.7 L289.8 231.1 L289.2 234.1 L287.8 236.2 L283.9 236.1 L281.5 233.9 L281.2 235.9 L278.1 236.4 L276.6 237.6 L278.3 240.5 L274.9 243.0" fill="none" stroke="#333" stroke-width="0.85" stroke-linejoin="round"/>
<path d="M296.9 215.1 L299.2 210.9 L301.9 208.5 L304.9 209.3 L307.8 209.6" fill="none" stroke="#333" stroke-width="0.85" stroke-linejoin="round"/>
<path d="M307.8 209.6 L308.2 206.4 L309.9 204.1 L312.3 202.7 L316.0 204.2 L318.9 205.9 L322.1 206.3 L325.5 207.2 L326.8 204.5 L327.4 204.1 L329.5 204.6 L334.4 202.4 L336.2 203.3 L337.6 203.2 L338.3 202.1 L340.0 201.7 L343.3 202.2 L346.2 202.3 L347.6 201.8" fill="none" stroke="#333" stroke-width="0.85" stroke-linejoin="round"/>
<path d="M347.6 201.8 L346.9 200.4 L343.6 198.6 L342.5 195.9 L340.6 194.0 L337.6 191.7 L337.5 190.2 L335.1 188.4 L332.1 186.7 L331.7 186.4 L330.2 185.2 L329.9 183.8 L330.6 181.9 L330.6 180.1 L328.0 177.3 L327.5 175.4" fill="none" stroke="#333" stroke-width="0.85" stroke-linejoin="round"/>
<path d="M332.1 186.7 L333.4 186.2 L335.0 185.3 L336.1 181.3 L337.4 179.3 L340.6 178.7 L341.3 179.9 L343.7 182.5 L344.9 182.9 L346.5 182.1 L349.7 182.3 L350.3 183.2 L354.8 183.2 L354.9 182.3 L357.3 181.4 L357.7 180.1 L359.4 179.2 L363.2 181.8 L365.4 181.3 L367.7 178.1 L370.1 175.7 L369.7 173.0 L368.7 171.7 L371.3 171.5 L371.6 170.4 L373.7 170.8 L373.2 174.1 L373.7 177.3 L376.0 179.0 L376.6 180.6 L376.5 182.8 L377.1 182.9 L377.1 186.4" fill="none" stroke="#333" stroke-width="0.85" stroke-linejoin="round"/>
<path d="M377.1 186.4 L376.5 187.7 L374.1 187.9 L372.6 190.4 L375.4 190.7 L377.6 192.9 L378.4 194.7 L380.5 195.7 L383.1 200.6 L380.1 203.5 L377.3 206.2 L374.6 208.3 L371.4 208.3 L367.8 209.3 L365.0 208.3 L363.1 209.5 L359.2 206.6 L358.1 204.6 L355.6 205.6 L353.6 205.3 L352.4 206.0 L350.4 205.5 L347.6 201.8" fill="none" stroke="#333" stroke-width="0.85" stroke-linejoin="round"/>
<path d="M377.1 186.4 L377.1 182.4 L378.4 177.7 L380.5 176.4 L381.0 174.6 L382.9 171.2 L385.6 169.0 L387.4 164.6 L388.1 160.7 L387.7 159.0 L389.6 152.4 L390.0 149.4 L391.4 148.0 L394.7 147.3 L397.0 144.7" fill="none" stroke="#333" stroke-width="0.85" stroke-linejoin="round"/>
<path d="M388.1 160.7 L393.3 161.7 L394.8 158.3 L397.4 160.3 L400.1 159.3 L401.1 160.3 L404.2 160.3 L408.1 162.1 L409.3 163.6 L411.3 165.1 L413.1 167.7 L414.6 169.1 L417.9 168.4" fill="none" stroke="#333" stroke-width="0.85" stroke-linejoin="round"/>
<path d="M414.6 169.1 L413.0 171.1 L411.5 173.2 L411.9 174.4 L412.0 175.8 L414.4 175.9 L415.5 175.5 L416.5 176.3 L418.2 174.0" fill="none" stroke="#333" stroke-width="0.85" stroke-linejoin="round"/>
<path d="M416.5 176.3 L415.5 178.0 L417.2 180.4 L418.9 182.6 L420.5 184.2 L435.2 189.4 L438.9 189.4 L426.3 202.8 L420.5 203.0 L416.5 206.2 L413.6 206.3 L412.4 207.7" fill="none" stroke="#333" stroke-width="0.85" stroke-linejoin="round"/>
<path d="M444.1 174.2 L444.1 183.0 L442.1 185.7 L438.9 189.4" fill="none" stroke="#333" stroke-width="0.85" stroke-linejoin="round"/>
<path d="M412.4 207.7 L409.3 207.7 L407.5 206.2 L403.4 208.0 L402.1 209.9 L399.1 209.6 L398.2 209.0 L397.1 209.2 L395.7 209.1 L390.1 205.3 L386.9 205.3 L385.4 203.8 L385.4 201.3 L383.1 200.6" fill="none" stroke="#333" stroke-width="0.85" stroke-linejoin="round"/>
<path d="M412.4 207.7 L408.5 212.8 L408.5 229.0 L411.2 232.7" fill="none" stroke="#333" stroke-width="0.85" stroke-linejoin="round"/>
<path d="M377.3 206.2 L379.4 209.3 L380.0 211.6 L381.9 216.7 L380.3 219.9 L378.1 222.9 L376.8 224.7 L376.8 229.4 L393.8 239.1 L394.1 241.6 L400.5 246.1" fill="none" stroke="#333" stroke-width="0.85" stroke-linejoin="round"/>
<path d="M376.8 229.4 L367.8 229.8 L362.8 229.7 L361.3 230.3" fill="none" stroke="#333" stroke-width="0.85" stroke-linejoin="round"/>
<path d="M363.1 209.5 L362.8 214.7 L364.6 215.4 L363.2 216.9 L361.5 218.1 L359.8 220.5 L358.9 222.5 L358.6 226.1 L357.6 227.8 L357.5 231.2 L356.2 232.4 L356.0 235.1 L355.5 235.4 L355.0 237.9 L356.2 239.9 L356.4 245.3 L357.3 249.4 L356.8 251.8 L357.7 254.3 L360.3 256.8 L362.7 262.5" fill="none" stroke="#333" stroke-width="0.85" stroke-linejoin="round"/>
<path d="M357.5 231.2 L358.6 231.6 L361.3 230.3 L363.1 232.8 L362.8 235.4 L361.5 236.0 L361.8 237.8 L362.7 238.7 L362.8 240.2 L361.7 241.2 L359.9 243.5 L358.3 245.1 L356.4 245.3" fill="none" stroke="#333" stroke-width="0.85" stroke-linejoin="round"/>
<path d="M355.0 237.9 L357.7 238.3 L359.1 235.7 L361.5 236.0" fill="none" stroke="#333" stroke-width="0.85" stroke-linejoin="round"/>
<path d="M362.7 262.5 L364.6 263.6 L366.4 264.4 L369.2 265.1 L371.7 266.5 L373.8 268.5 L376.1 267.3 L378.5 270.6 L379.8 276.7 L383.1 276.3 L388.5 277.6 L389.7 277.0 L392.8 276.9 L394.4 275.6 L397.1 275.7 L402.0 273.9 L405.5 271.3" fill="none" stroke="#333" stroke-width="0.85" stroke-linejoin="round"/>
<path d="M362.7 262.5 L361.0 262.0 L354.9 262.8 L353.7 263.3 L352.5 266.1 L353.5 268.2 L352.7 273.4 L352.1 277.9 L353.3 278.7 L356.4 280.4 L357.7 279.6 L358.1 284.5 L354.6 284.4 L352.8 282.0 L351.2 280.0 L347.7 279.4 L346.7 277.1 L344.0 278.5 L340.4 277.9 L338.9 275.8 L336.1 275.4 L334.0 275.5 L333.7 274.1 L332.2 274.1" fill="none" stroke="#333" stroke-width="0.85" stroke-linejoin="round"/>
<path d="M332.2 274.1 L330.2 273.8 L327.4 274.5 L325.4 274.3 L324.4 274.7 L324.6 269.4 L323.1 267.8 L322.7 265.0 L323.4 262.3 L322.5 260.6 L322.4 257.8 L317.0 257.8 L317.4 256.2 L315.1 256.2 L314.9 257.0 L312.1 257.2 L311.0 259.8 L310.3 260.9 L307.8 260.3 L306.3 260.9 L303.4 261.3 L301.7 258.9 L300.7 257.5 L299.4 254.8 L298.3 251.5 L285.1 251.4 L283.5 251.9 L282.2 251.9 L280.4 252.5" fill="none" stroke="#333" stroke-width="0.85" stroke-linejoin="round"/>
<path d="M279.7 251.1 L280.9 250.6 L281.0 248.7 L281.8 247.5 L283.4 246.6 L281.8 245.0 L280.4 245.8 L278.5 247.7" fill="none" stroke="#333" stroke-width="0.85" stroke-linejoin="round"/>
<path d="M307.8 209.6 L307.5 212.2 L306.2 214.6 L305.3 217.4 L304.7 221.4 L305.0 223.9 L304.2 225.5 L304.2 227.1 L303.6 228.5 L300.7 230.7 L298.7 233.0 L296.7 237.3 L296.9 241.0 L295.7 242.5 L293.1 244.6 L290.5 247.4 L288.8 246.6 L288.5 245.4 L286.1 245.3 L284.6 247.0 L283.4 246.6" fill="none" stroke="#333" stroke-width="0.85" stroke-linejoin="round"/>
<path d="M332.2 274.1 L332.7 275.4 L332.1 277.6 L332.9 279.7 L332.3 281.4 L332.7 282.9 L323.3 282.9 L323.1 297.1 L326.1 300.7 L329.1 303.5" fill="none" stroke="#333" stroke-width="0.85" stroke-linejoin="round"/>
<path d="M329.1 303.5 L320.9 305.3 L310.1 304.7 L306.9 302.6 L288.8 302.8 L288.1 303.1 L285.5 301.1 L282.6 300.9 L279.9 301.7 L277.7 302.5" fill="none" stroke="#333" stroke-width="0.85" stroke-linejoin="round"/>
<path d="M329.1 303.5 L332.7 302.5 L335.6 302.8 L337.4 303.8 L337.4 304.1 L334.9 305.2 L333.6 305.2 L330.7 306.9 L329.0 305.1 L322.1 306.6 L318.8 306.8 L318.6 322.7 L314.3 322.9 L314.3 335.9 L314.2 352.4 L310.2 354.7 L307.8 355.1 L305.0 354.2 L303.0 353.8 L302.3 352.0 L300.5 350.7 L298.3 353.0" fill="none" stroke="#333" stroke-width="0.85" stroke-linejoin="round"/>
<path d="M314.3 335.9 L315.5 336.6 L318.1 340.8 L317.7 343.6 L318.7 345.1 L321.9 344.7 L324.1 342.7 L326.2 341.3 L327.3 339.2 L329.5 338.2 L331.4 338.7 L333.5 339.9 L337.2 340.2 L340.0 339.1 L340.5 337.7 L341.3 335.6 L343.7 335.3 L345.1 333.6 L346.5 330.6 L350.5 327.3 L356.9 323.9" fill="none" stroke="#333" stroke-width="0.85" stroke-linejoin="round"/>
<path d="M356.9 323.9 L354.0 321.9 L350.5 321.3 L349.3 318.4 L349.2 316.8 L347.3 316.3 L342.2 311.4 L340.8 308.8 L340.0 308.1 L338.2 304.5 L337.4 304.1" fill="none" stroke="#333" stroke-width="0.85" stroke-linejoin="round"/>
<path d="M338.2 304.5 L343.2 305.0 L344.7 305.5 L346.2 305.4 L348.7 302.5 L352.6 298.8 L354.2 298.5 L354.7 296.9 L357.3 295.1 L360.6 294.5" fill="none" stroke="#333" stroke-width="0.85" stroke-linejoin="round"/>
<path d="M360.6 294.5 L360.2 291.4 L373.7 287.6 L371.4 286.5 L372.8 282.3 L374.2 280.8 L373.3 277.1 L374.2 273.5 L375.0 272.3 L373.8 268.5" fill="none" stroke="#333" stroke-width="0.85" stroke-linejoin="round"/>
<path d="M379.8 276.7 L378.5 280.1 L379.8 285.9 L381.3 285.9 L383.0 287.3 L384.8 290.5 L385.2 296.3 L383.3 297.2 L381.9 300.3 L379.0 297.5 L378.7 294.4 L379.6 292.3 L379.3 290.5 L377.5 289.4 L376.3 289.8 L373.7 287.6" fill="none" stroke="#333" stroke-width="0.85" stroke-linejoin="round"/>
<path d="M360.6 294.5 L360.9 296.2 L364.6 296.1 L366.7 297.0 L367.7 298.2 L369.8 298.5 L372.1 299.9 L372.1 305.6 L371.2 308.7 L371.1 312.0 L371.8 313.3 L371.3 315.9 L370.6 316.4 L369.4 319.6 L364.7 324.7" fill="none" stroke="#333" stroke-width="0.85" stroke-linejoin="round"/>
<path d="M364.7 324.7 L362.4 324.2 L360.8 324.7 L358.7 324.0 L356.9 323.9" fill="none" stroke="#333" stroke-width="0.85" stroke-linejoin="round"/>
<path d="M364.7 324.7 L366.9 331.0 L368.0 334.1 L367.2 339.1 L367.6 340.7 L365.3 339.9 L364.0 340.2 L363.6 341.5 L362.4 343.2 L362.5 344.7 L365.1 347.2 L367.8 346.7 L368.7 344.7 L368.3 342.7 L367.6 340.7" fill="none" stroke="#333" stroke-width="0.85" stroke-linejoin="round"/>
<path d="M368.7 344.7 L372.1 344.7" fill="none" stroke="#333" stroke-width="0.85" stroke-linejoin="round"/>
<path d="M354.8 354.7 L356.4 356.0 L355.0 358.1 L354.3 359.6 L351.8 360.3 L351.0 361.8 L349.3 362.2 L346.0 358.8 L348.4 355.9 L350.8 354.2 L352.9 353.3 L354.8 354.7" fill="none" stroke="#333" stroke-width="0.85" stroke-linejoin="round"/>
<path d="M186.6 54.4 L185.3 58.7 L190.2 61.0 L191.8 58.9 L196.9 59.4 L198.9 63.4 L201.6 64.3 L205.0 60.7 L216.4 59.8 L223.7 54.4 L186.6 54.4" fill="none" stroke="#222" stroke-width="0.85" stroke-linejoin="round"/>
<path d="M191.8 58.9 L193.8 54.4" fill="none" stroke="#222" stroke-width="0.85" stroke-linejoin="round"/>
<path d="M280.7 55.1 L295.0 54.4 L292.8 61.4 L280.7 56.2 L280.7 55.1" fill="none" stroke="#222" stroke-width="0.85" stroke-linejoin="round"/>
<path d="M320.5 54.4 L321.9 60.3 L325.4 62.0 L327.2 58.5 L329.0 55.8 L330.8 54.4 L320.5 54.4" fill="none" stroke="#222" stroke-width="0.85" stroke-linejoin="round"/>
<path d="M330.8 66.5 L333.9 67.2 L342.4 67.6 L342.4 68.5 L335.7 69.0 L330.8 67.4 L330.8 66.5" fill="none" stroke="#222" stroke-width="0.85" stroke-linejoin="round"/>
<path d="M369.7 68.3 L372.4 67.2 L379.5 65.8 L376.8 68.8 L372.8 70.5 L369.7 68.3" fill="none" stroke="#222" stroke-width="0.85" stroke-linejoin="round"/>
<path d="M344.6 54.4 L347.3 59.8 L351.4 61.2 L355.4 61.2 L358.1 63.6 L362.1 60.7 L368.3 62.0 L370.6 63.8 L377.3 63.4 L380.4 60.7 L384.4 61.6 L387.1 61.6 L385.8 64.7 L388.0 63.4 L389.3 60.7 L395.2 60.7 L401.9 61.2 L408.6 59.4 L414.4 58.9 L421.5 58.5 L425.6 58.9 L423.8 54.4 L344.6 54.4" fill="none" stroke="#222" stroke-width="0.85" stroke-linejoin="round"/>
<path d="M385.8 64.7 L385.8 70.3 L384.0 73.7 L382.2 77.2 L381.3 79.9 L379.5 83.9 L378.2 85.3" fill="none" stroke="#222" stroke-width="0.85" stroke-linejoin="round"/>
<path d="M385.8 70.3 L388.0 70.5 L388.9 72.3 L386.2 74.1 L385.3 76.3 L384.9 79.0 L389.8 80.8 L398.7 75.9 L408.6 71.4 L410.4 66.1 L409.9 62.5 L414.4 58.9" fill="none" stroke="#222" stroke-width="0.85" stroke-linejoin="round"/>
<path d="M382.2 77.2 L385.3 76.3" fill="none" stroke="#222" stroke-width="0.85" stroke-linejoin="round"/>
<path d="M384.9 79.0 L384.0 80.4 L383.5 86.2 L381.8 93.3 L381.3 93.3" fill="none" stroke="#222" stroke-width="0.85" stroke-linejoin="round"/>
<path d="M398.7 75.9 L400.5 81.3 L390.7 84.4 L395.2 88.9 L392.9 91.1 L386.2 94.7 L381.8 93.8" fill="none" stroke="#222" stroke-width="0.85" stroke-linejoin="round"/>
<path d="M400.5 81.3 L405.9 82.6 L413.0 85.7 L425.1 94.7 L433.5 95.1 L437.4 95.6 L438.6 97.7 L441.7 97.6" fill="none" stroke="#222" stroke-width="0.85" stroke-linejoin="round"/>
<path d="M433.5 95.1 L436.7 90.8 L439.7 91.2 L441.2 93.8" fill="none" stroke="#222" stroke-width="0.85" stroke-linejoin="round"/>
<path d="M425.6 58.9 L428.2 64.3 L431.4 65.6 L428.2 73.2 L431.4 77.7 L436.7 79.9 L439.0 83.5 L438.5 86.6 L439.9 88.9 L442.5 91.5" fill="none" stroke="#222" stroke-width="0.85" stroke-linejoin="round"/>
<path d="M439.7 91.2 L442.5 91.5 L449.2 90.7 L452.8 96.5 L460.0 101.8 L469.8 106.7 L477.9 104.1 L481.9 110.3 L486.8 110.8 L493.5 111.7 L500.2 113.0 L511.4 112.6 L511.4 54.4 L423.8 54.4" fill="none" stroke="#222" stroke-width="0.85" stroke-linejoin="round"/>
<path d="M500.2 113.0 L506.5 107.2 L508.3 103.6 L506.0 98.7 L501.5 96.9 L497.5 92.0 L501.1 84.8 L497.5 84.4 L495.7 74.6 L497.5 71.9 L498.9 66.1 L503.3 67.4 L506.9 67.0 L511.4 64.3" fill="none" stroke="#222" stroke-width="0.85" stroke-linejoin="round"/>
<path d="M497.5 92.0 L504.7 94.2 L511.4 93.8" fill="none" stroke="#222" stroke-width="0.85" stroke-linejoin="round"/>
<path d="M443.9 54.4 L445.2 57.1 L449.2 58.0 L452.4 60.3 L459.1 61.2 L466.2 60.0 L466.2 58.9 L470.3 58.0 L473.4 55.3 L476.5 54.9 L481.4 55.3 L486.3 57.6 L489.9 58.0 L495.3 62.0 L498.4 62.0 L498.9 66.1" fill="none" stroke="#222" stroke-width="0.85" stroke-linejoin="round"/>
<path d="M466.2 58.9 L465.3 54.4" fill="none" stroke="#222" stroke-width="0.85" stroke-linejoin="round"/>
<path d="M381.8 93.8 L381.8 100.0 L388.5 109.0 L392.9 116.6 L397.4 119.3 L400.1 124.2 L400.5 129.1 L403.2 134.5 L409.5 141.6 L414.4 147.4 L416.6 151.9 L416.2 155.0 L418.4 165.7 L419.7 168.9 L426.4 168.0 L434.0 165.3 L443.0 162.6 L449.7 158.1 L458.6 155.5 L462.7 151.0 L470.3 149.2 L472.5 146.5 L477.0 145.2 L483.2 140.3 L483.7 134.9 L488.6 134.0 L492.6 124.6 L487.7 119.7 L481.9 118.4 L477.4 113.9 L476.1 108.8 L472.9 111.7 L469.8 114.3 L466.7 117.5 L460.4 117.0 L456.0 117.0 L456.0 115.2 L456.0 109.9 L454.6 108.5 L453.3 109.0 L451.9 111.2 L452.4 114.6 L449.7 110.8 L449.7 105.9 L446.6 104.1 L445.7 102.3 L443.4 101.4 L441.7 97.6" fill="none" stroke="#222" stroke-width="0.85" stroke-linejoin="round"/>
<path d="M452.4 114.6 L453.3 115.7 L456.0 115.2" fill="none" stroke="#222" stroke-width="0.85" stroke-linejoin="round"/>
<path d="M416.6 151.9 L418.4 147.0 L422.0 147.4 L432.7 148.3 L437.6 148.8 L440.8 143.8 L444.8 142.1 L457.7 140.3 L462.7 151.0" fill="none" stroke="#222" stroke-width="0.85" stroke-linejoin="round"/>
<path d="M457.7 140.3 L471.1 135.8 L474.3 126.9 L472.0 123.7 L474.7 116.6 L477.4 113.9" fill="none" stroke="#222" stroke-width="0.85" stroke-linejoin="round"/>
<path d="M456.0 117.0 L457.7 122.4 L471.1 124.6 L472.0 123.7" fill="none" stroke="#222" stroke-width="0.85" stroke-linejoin="round"/>
<path d="M476.1 108.8 L477.4 107.2 L477.9 110.8" fill="none" stroke="#222" stroke-width="0.85" stroke-linejoin="round"/>

</g>
<path d="M109.6 54.6V435H510.7" fill="none" stroke="#000" stroke-width="1.1"/>
<g stroke="#333" stroke-width="1.05">
<path d="M105.6 135.8H109.6M105.6 225.2H109.6M105.6 314.6H109.6M105.6 404.0H109.6"/>
<path d="M135.9 435V439M225.3 435V439M314.7 435V439M404.1 435V439M493.5 435V439"/>
</g>
<g class="tk" text-anchor="end">
<text x="103.3" y="140.8" class="tk">20°N</text>
<text x="103.3" y="230.2" class="tk">0°</text>
<text x="103.3" y="319.6" class="tk">20°S</text>
<text x="103.3" y="409.0" class="tk">40°S</text>
</g>
<g class="tk" text-anchor="middle">
<text x="135.9" y="453" class="tk">20°W</text>
<text x="225.3" y="453" class="tk">0°</text>
<text x="314.7" y="453" class="tk">20°E</text>
<text x="404.1" y="453" class="tk">40°E</text>
<text x="493.5" y="453" class="tk">60°E</text>
</g>
<text x="310" y="470" class="ax" text-anchor="middle">latitude</text>
<text transform="translate(68.3,245) rotate(-90)" class="ax" text-anchor="middle">longitude</text>
<text x="109.5" y="22" class="t1">Local bird diversity (cSAR/BES-SIM)</text>
<text x="109.5" y="45" class="t2">Absolute change in the number of species - forest bird species (1900-01-01)</text>
<text x="533" y="183" class="ax">Number of</text>
<text x="533" y="198" class="ax">species</text>
<rect x="533" y="205.70" width="23.2" height="12.83" fill="#D73027"/><rect x="533" y="218.43" width="23.2" height="12.83" fill="#F46D43"/><rect x="533" y="231.17" width="23.2" height="12.83" fill="#FDAE61"/><rect x="533" y="243.90" width="23.2" height="12.83" fill="#FEE090"/><rect x="533" y="256.63" width="23.2" height="12.83" fill="#FFFFBF"/><rect x="533" y="269.37" width="23.2" height="12.83" fill="#E0F3F8"/><rect x="533" y="282.10" width="23.2" height="12.83" fill="#ABD9E9"/><rect x="533" y="294.83" width="23.2" height="12.83" fill="#74ADD1"/><rect x="533" y="307.57" width="23.2" height="12.83" fill="#4575B4"/><text x="563" y="209.90" class="lg">8.96</text><text x="563" y="222.63" class="lg">1.24</text><text x="563" y="235.37" class="lg">0.671</text><text x="563" y="248.10" class="lg">0.421</text><text x="563" y="260.83" class="lg">0.308</text><text x="563" y="273.57" class="lg">0.198</text><text x="563" y="286.30" class="lg">0.0525</text><text x="563" y="299.03" class="lg">0.00777</text><text x="563" y="311.77" class="lg">0.00364</text><text x="563" y="324.50" class="lg">-0.259</text>
</svg>
</body></html>
